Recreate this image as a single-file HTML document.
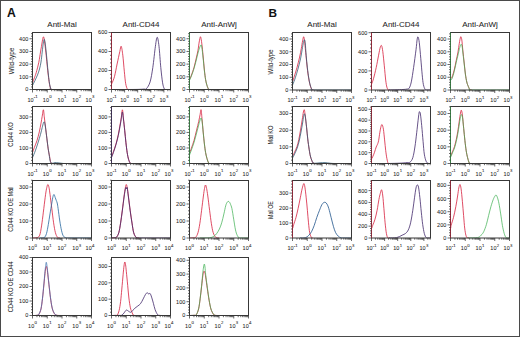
<!DOCTYPE html><html><head><meta charset="utf-8"><style>html,body{margin:0;padding:0;background:#fff;}svg{display:block;}text{font-family:"Liberation Sans", sans-serif;stroke:#1e1e1e;stroke-width:0.05px;}</style></head><body>
<svg width="520" height="337" viewBox="0 0 520 337">
<rect x="0" y="0" width="520" height="337" fill="#fff"/>
<clipPath id="cA00"><rect x="32.50" y="32.50" width="59.00" height="57.60"/></clipPath>
<g clip-path="url(#cA00)" fill="none" stroke-width="0.9" stroke-linejoin="round">
<path d="M32.50,83.00 C32.83,82.08 33.88,79.22 34.50,77.50 C35.12,75.78 35.48,75.23 36.20,72.70 C36.92,70.17 38.08,65.75 38.80,62.30 C39.52,58.85 40.02,54.88 40.50,52.00 C40.98,49.12 41.35,47.08 41.70,45.00 C42.05,42.92 42.32,40.87 42.60,39.50 C42.88,38.13 43.13,36.88 43.40,36.80 C43.67,36.72 43.97,37.92 44.20,39.00 C44.43,40.08 44.47,40.57 44.80,43.30 C45.13,46.03 45.77,51.37 46.20,55.40 C46.63,59.43 47.00,63.77 47.40,67.50 C47.80,71.23 48.23,74.93 48.60,77.80 C48.97,80.67 49.23,82.87 49.60,84.70 C49.97,86.53 50.32,88.00 50.80,88.80 C51.28,89.60 45.80,89.38 52.50,89.50 C59.20,89.62 84.58,89.50 91.00,89.50" stroke="#d8223f" stroke-opacity="0.9"/>
<path d="M32.50,85.50 C32.92,84.67 34.17,82.25 35.00,80.50 C35.83,78.75 36.75,76.92 37.50,75.00 C38.25,73.08 38.92,71.17 39.50,69.00 C40.08,66.83 40.55,64.83 41.00,62.00 C41.45,59.17 41.82,55.17 42.20,52.00 C42.58,48.83 42.98,45.08 43.30,43.00 C43.62,40.92 43.82,39.67 44.10,39.50 C44.38,39.33 44.63,39.75 45.00,42.00 C45.37,44.25 45.88,49.00 46.30,53.00 C46.72,57.00 47.10,61.92 47.50,66.00 C47.90,70.08 48.33,74.42 48.70,77.50 C49.07,80.58 49.33,82.62 49.70,84.50 C50.07,86.38 50.43,87.97 50.90,88.80 C51.37,89.63 45.82,89.38 52.50,89.50 C59.18,89.62 84.58,89.50 91.00,89.50" stroke="#2c5670" stroke-opacity="0.85"/>
</g>
<rect x="32.50" y="32.50" width="59.00" height="57.00" fill="none" stroke="#383838" stroke-width="1"/>
<text x="28.30" y="91.45" font-size="5.5" text-anchor="end" fill="#1e1e1e">0</text>
<text x="28.30" y="78.76" font-size="5.5" text-anchor="end" fill="#1e1e1e">100</text>
<text x="28.30" y="66.08" font-size="5.5" text-anchor="end" fill="#1e1e1e">200</text>
<text x="28.30" y="53.39" font-size="5.5" text-anchor="end" fill="#1e1e1e">300</text>
<text x="28.30" y="40.70" font-size="5.5" text-anchor="end" fill="#1e1e1e">400</text>
<path d="M29.50 89.50H32.50M31.00 86.96H32.50M31.00 84.42H32.50M31.00 81.89H32.50M31.00 79.35H32.50M29.50 76.81H32.50M31.00 74.28H32.50M31.00 71.74H32.50M31.00 69.20H32.50M31.00 66.66H32.50M29.50 64.12H32.50M31.00 61.59H32.50M31.00 59.05H32.50M31.00 56.51H32.50M31.00 53.98H32.50M29.50 51.44H32.50M31.00 48.90H32.50M31.00 46.36H32.50M31.00 43.83H32.50M31.00 41.29H32.50M29.50 38.75H32.50M31.00 36.21H32.50M31.00 33.68H32.50M32.50 89.50V92.50M36.94 89.50V91.20M39.54 89.50V91.20M41.38 89.50V91.20M42.81 89.50V91.20M43.98 89.50V91.20M44.97 89.50V91.20M45.82 89.50V91.20M46.58 89.50V91.20M47.25 89.50V92.50M51.69 89.50V91.20M54.29 89.50V91.20M56.13 89.50V91.20M57.56 89.50V91.20M58.73 89.50V91.20M59.72 89.50V91.20M60.57 89.50V91.20M61.33 89.50V91.20M62.00 89.50V92.50M66.44 89.50V91.20M69.04 89.50V91.20M70.88 89.50V91.20M72.31 89.50V91.20M73.48 89.50V91.20M74.47 89.50V91.20M75.32 89.50V91.20M76.08 89.50V91.20M76.75 89.50V92.50M81.19 89.50V91.20M83.79 89.50V91.20M85.63 89.50V91.20M87.06 89.50V91.20M88.23 89.50V91.20M89.22 89.50V91.20M90.07 89.50V91.20M90.83 89.50V91.20M91.50 89.50V92.50" stroke="#383838" stroke-width="0.75" fill="none"/>
<text x="27.38" y="101.80" font-size="5.5" fill="#1e1e1e">10</text>
<text x="33.80" y="98.40" font-size="4.3" fill="#1e1e1e">-1</text>
<text x="42.85" y="101.80" font-size="5.5" fill="#1e1e1e">10</text>
<text x="49.26" y="98.40" font-size="4.3" fill="#1e1e1e">0</text>
<text x="57.60" y="101.80" font-size="5.5" fill="#1e1e1e">10</text>
<text x="64.01" y="98.40" font-size="4.3" fill="#1e1e1e">1</text>
<text x="72.35" y="101.80" font-size="5.5" fill="#1e1e1e">10</text>
<text x="78.76" y="98.40" font-size="4.3" fill="#1e1e1e">2</text>
<text x="85.60" y="101.80" font-size="5.5" fill="#1e1e1e">10</text>
<text x="92.01" y="98.40" font-size="4.3" fill="#1e1e1e">3</text>
<clipPath id="cA01"><rect x="111.50" y="32.50" width="59.00" height="57.60"/></clipPath>
<g clip-path="url(#cA01)" fill="none" stroke-width="0.9" stroke-linejoin="round">
<path d="M111.80,83.70 C112.25,82.50 113.62,79.78 114.50,76.50 C115.38,73.22 116.22,68.15 117.10,64.00 C117.98,59.85 119.12,54.55 119.80,51.60 C120.48,48.65 120.70,45.70 121.20,46.30 C121.70,46.90 122.28,51.05 122.80,55.20 C123.32,59.35 123.82,66.45 124.30,71.20 C124.78,75.95 125.17,80.68 125.70,83.70 C126.23,86.72 126.95,88.33 127.50,89.30 C128.05,90.27 128.75,89.47 129.00,89.50" stroke="#d8223f" stroke-opacity="0.9"/>
<path d="M128.00,89.50 C129.67,89.48 135.33,89.47 138.00,89.40 C140.67,89.33 142.58,89.23 144.00,89.10 C145.42,88.97 145.48,89.80 146.50,88.60 C147.52,87.40 149.05,85.40 150.10,81.90 C151.15,78.40 151.92,73.53 152.80,67.60 C153.68,61.67 154.67,51.35 155.40,46.30 C156.13,41.25 156.60,37.30 157.20,37.30 C157.80,37.30 158.40,41.25 159.00,46.30 C159.60,51.35 160.20,61.52 160.80,67.60 C161.40,73.68 162.02,79.27 162.60,82.80 C163.18,86.33 163.73,87.68 164.30,88.80 C164.87,89.92 165.05,89.38 166.00,89.50 C166.95,89.62 169.33,89.50 170.00,89.50" stroke="#432a6c" stroke-opacity="0.9"/>
</g>
<rect x="111.50" y="32.50" width="59.00" height="57.00" fill="none" stroke="#383838" stroke-width="1"/>
<line x1="111.50" y1="32.50" x2="111.50" y2="89.50" stroke="#d8223f" stroke-width="0.8" opacity="0.75"/>
<text x="107.30" y="91.45" font-size="5.5" text-anchor="end" fill="#1e1e1e">0</text>
<text x="107.30" y="72.45" font-size="5.5" text-anchor="end" fill="#1e1e1e">200</text>
<text x="107.30" y="53.45" font-size="5.5" text-anchor="end" fill="#1e1e1e">400</text>
<text x="107.30" y="34.45" font-size="5.5" text-anchor="end" fill="#1e1e1e">600</text>
<path d="M108.50 89.50H111.50M110.00 85.70H111.50M110.00 81.90H111.50M110.00 78.10H111.50M110.00 74.30H111.50M108.50 70.50H111.50M110.00 66.70H111.50M110.00 62.90H111.50M110.00 59.10H111.50M110.00 55.30H111.50M108.50 51.50H111.50M110.00 47.70H111.50M110.00 43.90H111.50M110.00 40.10H111.50M110.00 36.30H111.50M108.50 32.50H111.50M111.50 89.50V92.50M115.44 89.50V91.20M117.75 89.50V91.20M119.39 89.50V91.20M120.66 89.50V91.20M121.69 89.50V91.20M122.57 89.50V91.20M123.33 89.50V91.20M124.00 89.50V91.20M124.60 89.50V92.50M128.54 89.50V91.20M130.85 89.50V91.20M132.49 89.50V91.20M133.76 89.50V91.20M134.79 89.50V91.20M135.67 89.50V91.20M136.43 89.50V91.20M137.10 89.50V91.20M137.70 89.50V92.50M141.64 89.50V91.20M143.95 89.50V91.20M145.59 89.50V91.20M146.86 89.50V91.20M147.89 89.50V91.20M148.77 89.50V91.20M149.53 89.50V91.20M150.20 89.50V91.20M150.80 89.50V92.50M154.74 89.50V91.20M157.05 89.50V91.20M158.69 89.50V91.20M159.96 89.50V91.20M160.99 89.50V91.20M161.87 89.50V91.20M162.63 89.50V91.20M163.30 89.50V91.20M163.90 89.50V92.50M167.84 89.50V91.20M170.15 89.50V91.20" stroke="#383838" stroke-width="0.75" fill="none"/>
<text x="106.38" y="101.80" font-size="5.5" fill="#1e1e1e">10</text>
<text x="112.80" y="98.40" font-size="4.3" fill="#1e1e1e">-1</text>
<text x="120.20" y="101.80" font-size="5.5" fill="#1e1e1e">10</text>
<text x="126.61" y="98.40" font-size="4.3" fill="#1e1e1e">0</text>
<text x="133.30" y="101.80" font-size="5.5" fill="#1e1e1e">10</text>
<text x="139.71" y="98.40" font-size="4.3" fill="#1e1e1e">1</text>
<text x="146.40" y="101.80" font-size="5.5" fill="#1e1e1e">10</text>
<text x="152.81" y="98.40" font-size="4.3" fill="#1e1e1e">2</text>
<text x="159.50" y="101.80" font-size="5.5" fill="#1e1e1e">10</text>
<text x="165.91" y="98.40" font-size="4.3" fill="#1e1e1e">3</text>
<clipPath id="cA02"><rect x="189.50" y="32.50" width="59.00" height="57.60"/></clipPath>
<g clip-path="url(#cA02)" fill="none" stroke-width="0.9" stroke-linejoin="round">
<path d="M189.50,79.60 C189.82,78.87 190.65,77.22 191.40,75.20 C192.15,73.18 193.18,70.37 194.00,67.50 C194.82,64.63 195.63,60.88 196.30,58.00 C196.97,55.12 197.52,52.87 198.00,50.20 C198.48,47.53 198.80,44.23 199.20,42.00 C199.60,39.77 200.05,37.13 200.40,36.80 C200.75,36.47 201.00,38.30 201.30,40.00 C201.60,41.70 201.88,44.17 202.20,47.00 C202.52,49.83 202.83,53.17 203.20,57.00 C203.57,60.83 204.00,66.23 204.40,70.00 C204.80,73.77 205.17,77.02 205.60,79.60 C206.03,82.18 206.48,83.90 207.00,85.50 C207.52,87.10 208.03,88.53 208.70,89.20 C209.37,89.87 210.62,89.45 211.00,89.50" stroke="#d8223f" stroke-opacity="0.9"/>
<path d="M189.50,80.50 C189.82,79.75 190.65,78.00 191.40,76.00 C192.15,74.00 193.18,71.17 194.00,68.50 C194.82,65.83 195.63,62.58 196.30,60.00 C196.97,57.42 197.47,55.00 198.00,53.00 C198.53,51.00 199.02,49.33 199.50,48.00 C199.98,46.67 200.52,45.17 200.90,45.00 C201.28,44.83 201.42,44.68 201.80,47.00 C202.18,49.32 202.77,54.92 203.20,58.90 C203.63,62.88 204.00,67.45 204.40,70.90 C204.80,74.35 205.17,77.17 205.60,79.60 C206.03,82.03 206.48,83.90 207.00,85.50 C207.52,87.10 208.03,88.53 208.70,89.20 C209.37,89.87 204.45,89.45 211.00,89.50 C217.55,89.55 241.83,89.50 248.00,89.50" stroke="#3cb050" stroke-opacity="0.8"/>
</g>
<rect x="189.50" y="32.50" width="59.00" height="57.00" fill="none" stroke="#383838" stroke-width="1"/>
<line x1="189.50" y1="32.50" x2="189.50" y2="89.50" stroke="#3cb050" stroke-width="0.8" opacity="0.75"/>
<text x="185.30" y="91.45" font-size="5.5" text-anchor="end" fill="#1e1e1e">0</text>
<text x="185.30" y="78.76" font-size="5.5" text-anchor="end" fill="#1e1e1e">100</text>
<text x="185.30" y="66.08" font-size="5.5" text-anchor="end" fill="#1e1e1e">200</text>
<text x="185.30" y="53.39" font-size="5.5" text-anchor="end" fill="#1e1e1e">300</text>
<text x="185.30" y="40.70" font-size="5.5" text-anchor="end" fill="#1e1e1e">400</text>
<path d="M186.50 89.50H189.50M188.00 86.96H189.50M188.00 84.42H189.50M188.00 81.89H189.50M188.00 79.35H189.50M186.50 76.81H189.50M188.00 74.28H189.50M188.00 71.74H189.50M188.00 69.20H189.50M188.00 66.66H189.50M186.50 64.12H189.50M188.00 61.59H189.50M188.00 59.05H189.50M188.00 56.51H189.50M188.00 53.98H189.50M186.50 51.44H189.50M188.00 48.90H189.50M188.00 46.36H189.50M188.00 43.83H189.50M188.00 41.29H189.50M186.50 38.75H189.50M188.00 36.21H189.50M188.00 33.68H189.50M189.50 89.50V92.50M193.94 89.50V91.20M196.54 89.50V91.20M198.38 89.50V91.20M199.81 89.50V91.20M200.98 89.50V91.20M201.97 89.50V91.20M202.82 89.50V91.20M203.58 89.50V91.20M204.25 89.50V92.50M208.69 89.50V91.20M211.29 89.50V91.20M213.13 89.50V91.20M214.56 89.50V91.20M215.73 89.50V91.20M216.72 89.50V91.20M217.57 89.50V91.20M218.33 89.50V91.20M219.00 89.50V92.50M223.44 89.50V91.20M226.04 89.50V91.20M227.88 89.50V91.20M229.31 89.50V91.20M230.48 89.50V91.20M231.47 89.50V91.20M232.32 89.50V91.20M233.08 89.50V91.20M233.75 89.50V92.50M238.19 89.50V91.20M240.79 89.50V91.20M242.63 89.50V91.20M244.06 89.50V91.20M245.23 89.50V91.20M246.22 89.50V91.20M247.07 89.50V91.20M247.83 89.50V91.20M248.50 89.50V92.50" stroke="#383838" stroke-width="0.75" fill="none"/>
<text x="184.38" y="101.80" font-size="5.5" fill="#1e1e1e">10</text>
<text x="190.80" y="98.40" font-size="4.3" fill="#1e1e1e">-1</text>
<text x="199.85" y="101.80" font-size="5.5" fill="#1e1e1e">10</text>
<text x="206.26" y="98.40" font-size="4.3" fill="#1e1e1e">0</text>
<text x="214.60" y="101.80" font-size="5.5" fill="#1e1e1e">10</text>
<text x="221.01" y="98.40" font-size="4.3" fill="#1e1e1e">1</text>
<text x="229.35" y="101.80" font-size="5.5" fill="#1e1e1e">10</text>
<text x="235.76" y="98.40" font-size="4.3" fill="#1e1e1e">2</text>
<text x="242.60" y="101.80" font-size="5.5" fill="#1e1e1e">10</text>
<text x="249.01" y="98.40" font-size="4.3" fill="#1e1e1e">3</text>
<clipPath id="cA10"><rect x="32.50" y="106.50" width="59.00" height="57.60"/></clipPath>
<g clip-path="url(#cA10)" fill="none" stroke-width="0.9" stroke-linejoin="round">
<path d="M32.50,152.60 C32.82,151.73 33.65,149.42 34.40,147.40 C35.15,145.38 36.18,143.08 37.00,140.50 C37.82,137.92 38.63,134.78 39.30,131.90 C39.97,129.02 40.52,125.80 41.00,123.20 C41.48,120.60 41.80,118.53 42.20,116.30 C42.60,114.07 43.03,109.52 43.40,109.80 C43.77,110.08 44.02,114.90 44.40,118.00 C44.78,121.10 45.28,124.93 45.70,128.40 C46.12,131.87 46.48,135.35 46.90,138.80 C47.32,142.25 47.75,146.15 48.20,149.10 C48.65,152.05 49.17,154.27 49.60,156.50 C50.03,158.73 50.32,161.33 50.80,162.50 C51.28,163.67 52.22,163.33 52.50,163.50" stroke="#d8223f" stroke-opacity="0.9"/>
<path d="M32.50,157.70 C32.97,156.55 34.40,153.23 35.30,150.80 C36.20,148.37 37.03,145.83 37.90,143.10 C38.77,140.37 39.78,136.98 40.50,134.40 C41.22,131.82 41.72,129.50 42.20,127.60 C42.68,125.70 43.05,123.95 43.40,123.00 C43.75,122.05 44.02,121.57 44.30,121.90 C44.58,122.23 44.73,122.77 45.10,125.00 C45.47,127.23 46.03,131.72 46.50,135.30 C46.97,138.88 47.47,143.33 47.90,146.50 C48.33,149.67 48.70,151.80 49.10,154.30 C49.50,156.80 49.82,160.00 50.30,161.50 C50.78,163.00 51.22,163.12 52.00,163.30 C52.78,163.48 54.00,162.68 55.00,162.60 C56.00,162.52 56.83,162.68 58.00,162.80 C59.17,162.92 60.67,163.18 62.00,163.30 C63.33,163.42 61.17,163.47 66.00,163.50 C70.83,163.53 86.83,163.50 91.00,163.50" stroke="#2c5670" stroke-opacity="0.85"/>
</g>
<rect x="32.50" y="106.50" width="59.00" height="57.00" fill="none" stroke="#383838" stroke-width="1"/>
<text x="28.30" y="165.45" font-size="5.5" text-anchor="end" fill="#1e1e1e">0</text>
<text x="28.30" y="149.92" font-size="5.5" text-anchor="end" fill="#1e1e1e">100</text>
<text x="28.30" y="134.38" font-size="5.5" text-anchor="end" fill="#1e1e1e">200</text>
<text x="28.30" y="118.85" font-size="5.5" text-anchor="end" fill="#1e1e1e">300</text>
<path d="M29.50 163.50H32.50M31.00 160.39H32.50M31.00 157.29H32.50M31.00 154.18H32.50M31.00 151.07H32.50M29.50 147.97H32.50M31.00 144.86H32.50M31.00 141.75H32.50M31.00 138.65H32.50M31.00 135.54H32.50M29.50 132.43H32.50M31.00 129.33H32.50M31.00 126.22H32.50M31.00 123.11H32.50M31.00 120.01H32.50M29.50 116.90H32.50M31.00 113.79H32.50M31.00 110.69H32.50M31.00 107.58H32.50M32.50 163.50V166.50M36.94 163.50V165.20M39.54 163.50V165.20M41.38 163.50V165.20M42.81 163.50V165.20M43.98 163.50V165.20M44.97 163.50V165.20M45.82 163.50V165.20M46.58 163.50V165.20M47.25 163.50V166.50M51.69 163.50V165.20M54.29 163.50V165.20M56.13 163.50V165.20M57.56 163.50V165.20M58.73 163.50V165.20M59.72 163.50V165.20M60.57 163.50V165.20M61.33 163.50V165.20M62.00 163.50V166.50M66.44 163.50V165.20M69.04 163.50V165.20M70.88 163.50V165.20M72.31 163.50V165.20M73.48 163.50V165.20M74.47 163.50V165.20M75.32 163.50V165.20M76.08 163.50V165.20M76.75 163.50V166.50M81.19 163.50V165.20M83.79 163.50V165.20M85.63 163.50V165.20M87.06 163.50V165.20M88.23 163.50V165.20M89.22 163.50V165.20M90.07 163.50V165.20M90.83 163.50V165.20M91.50 163.50V166.50" stroke="#383838" stroke-width="0.75" fill="none"/>
<text x="27.38" y="175.80" font-size="5.5" fill="#1e1e1e">10</text>
<text x="33.80" y="172.40" font-size="4.3" fill="#1e1e1e">-1</text>
<text x="42.85" y="175.80" font-size="5.5" fill="#1e1e1e">10</text>
<text x="49.26" y="172.40" font-size="4.3" fill="#1e1e1e">0</text>
<text x="57.60" y="175.80" font-size="5.5" fill="#1e1e1e">10</text>
<text x="64.01" y="172.40" font-size="4.3" fill="#1e1e1e">1</text>
<text x="72.35" y="175.80" font-size="5.5" fill="#1e1e1e">10</text>
<text x="78.76" y="172.40" font-size="4.3" fill="#1e1e1e">2</text>
<text x="85.60" y="175.80" font-size="5.5" fill="#1e1e1e">10</text>
<text x="92.01" y="172.40" font-size="4.3" fill="#1e1e1e">3</text>
<clipPath id="cA11"><rect x="111.50" y="106.50" width="59.00" height="57.60"/></clipPath>
<g clip-path="url(#cA11)" fill="none" stroke-width="0.9" stroke-linejoin="round">
<path d="M111.50,156.90 C111.82,156.03 112.65,153.87 113.40,151.70 C114.15,149.53 115.18,146.78 116.00,143.90 C116.82,141.02 117.63,137.55 118.30,134.40 C118.97,131.25 119.52,127.73 120.00,125.00 C120.48,122.27 120.80,120.53 121.20,118.00 C121.60,115.47 122.03,109.80 122.40,109.80 C122.77,109.80 123.02,114.62 123.40,118.00 C123.78,121.38 124.28,126.07 124.70,130.10 C125.12,134.13 125.48,138.45 125.90,142.20 C126.32,145.95 126.75,149.73 127.20,152.60 C127.65,155.47 128.08,157.63 128.60,159.40 C129.12,161.17 129.73,162.52 130.30,163.20 C130.87,163.88 131.72,163.45 132.00,163.50" stroke="#d8223f" stroke-opacity="0.9"/>
<path d="M111.50,157.50 C111.82,156.67 112.65,154.67 113.40,152.50 C114.15,150.33 115.18,147.33 116.00,144.50 C116.82,141.67 117.63,138.50 118.30,135.50 C118.97,132.50 119.52,129.17 120.00,126.50 C120.48,123.83 120.80,121.92 121.20,119.50 C121.60,117.08 122.03,112.08 122.40,112.00 C122.77,111.92 123.02,115.92 123.40,119.00 C123.78,122.08 124.28,126.58 124.70,130.50 C125.12,134.42 125.48,138.78 125.90,142.50 C126.32,146.22 126.75,149.97 127.20,152.80 C127.65,155.63 128.08,157.77 128.60,159.50 C129.12,161.23 129.73,162.53 130.30,163.20 C130.87,163.87 125.38,163.45 132.00,163.50 C138.62,163.55 163.67,163.50 170.00,163.50" stroke="#432a6c" stroke-opacity="0.9"/>
</g>
<rect x="111.50" y="106.50" width="59.00" height="57.00" fill="none" stroke="#383838" stroke-width="1"/>
<line x1="111.50" y1="106.50" x2="111.50" y2="163.50" stroke="#432a6c" stroke-width="0.8" opacity="0.75"/>
<text x="107.30" y="165.45" font-size="5.5" text-anchor="end" fill="#1e1e1e">0</text>
<text x="107.30" y="149.92" font-size="5.5" text-anchor="end" fill="#1e1e1e">100</text>
<text x="107.30" y="134.38" font-size="5.5" text-anchor="end" fill="#1e1e1e">200</text>
<text x="107.30" y="118.85" font-size="5.5" text-anchor="end" fill="#1e1e1e">300</text>
<path d="M108.50 163.50H111.50M110.00 160.39H111.50M110.00 157.29H111.50M110.00 154.18H111.50M110.00 151.07H111.50M108.50 147.97H111.50M110.00 144.86H111.50M110.00 141.75H111.50M110.00 138.65H111.50M110.00 135.54H111.50M108.50 132.43H111.50M110.00 129.33H111.50M110.00 126.22H111.50M110.00 123.11H111.50M110.00 120.01H111.50M108.50 116.90H111.50M110.00 113.79H111.50M110.00 110.69H111.50M110.00 107.58H111.50M111.50 163.50V166.50M115.94 163.50V165.20M118.54 163.50V165.20M120.38 163.50V165.20M121.81 163.50V165.20M122.98 163.50V165.20M123.97 163.50V165.20M124.82 163.50V165.20M125.58 163.50V165.20M126.25 163.50V166.50M130.69 163.50V165.20M133.29 163.50V165.20M135.13 163.50V165.20M136.56 163.50V165.20M137.73 163.50V165.20M138.72 163.50V165.20M139.57 163.50V165.20M140.33 163.50V165.20M141.00 163.50V166.50M145.44 163.50V165.20M148.04 163.50V165.20M149.88 163.50V165.20M151.31 163.50V165.20M152.48 163.50V165.20M153.47 163.50V165.20M154.32 163.50V165.20M155.08 163.50V165.20M155.75 163.50V166.50M160.19 163.50V165.20M162.79 163.50V165.20M164.63 163.50V165.20M166.06 163.50V165.20M167.23 163.50V165.20M168.22 163.50V165.20M169.07 163.50V165.20M169.83 163.50V165.20M170.50 163.50V166.50" stroke="#383838" stroke-width="0.75" fill="none"/>
<text x="106.38" y="175.80" font-size="5.5" fill="#1e1e1e">10</text>
<text x="112.80" y="172.40" font-size="4.3" fill="#1e1e1e">-1</text>
<text x="121.85" y="175.80" font-size="5.5" fill="#1e1e1e">10</text>
<text x="128.26" y="172.40" font-size="4.3" fill="#1e1e1e">0</text>
<text x="136.60" y="175.80" font-size="5.5" fill="#1e1e1e">10</text>
<text x="143.01" y="172.40" font-size="4.3" fill="#1e1e1e">1</text>
<text x="151.35" y="175.80" font-size="5.5" fill="#1e1e1e">10</text>
<text x="157.76" y="172.40" font-size="4.3" fill="#1e1e1e">2</text>
<text x="164.60" y="175.80" font-size="5.5" fill="#1e1e1e">10</text>
<text x="171.01" y="172.40" font-size="4.3" fill="#1e1e1e">3</text>
<clipPath id="cA12"><rect x="189.50" y="106.50" width="59.00" height="57.60"/></clipPath>
<g clip-path="url(#cA12)" fill="none" stroke-width="0.9" stroke-linejoin="round">
<path d="M189.50,153.40 C189.82,152.53 190.65,150.35 191.40,148.20 C192.15,146.05 193.13,143.52 194.00,140.50 C194.87,137.48 195.82,133.27 196.60,130.10 C197.38,126.93 198.12,124.08 198.70,121.50 C199.28,118.92 199.70,116.55 200.10,114.60 C200.50,112.65 200.77,108.93 201.10,109.80 C201.43,110.67 201.75,116.12 202.10,119.80 C202.45,123.48 202.82,127.88 203.20,131.90 C203.58,135.92 204.00,140.45 204.40,143.90 C204.80,147.35 205.17,150.15 205.60,152.60 C206.03,155.05 206.48,156.87 207.00,158.60 C207.52,160.33 208.12,162.18 208.70,163.00 C209.28,163.82 210.20,163.42 210.50,163.50" stroke="#d8223f" stroke-opacity="0.9"/>
<path d="M189.50,155.00 C189.82,154.17 190.65,152.08 191.40,150.00 C192.15,147.92 193.13,145.33 194.00,142.50 C194.87,139.67 195.82,135.92 196.60,133.00 C197.38,130.08 198.12,127.17 198.70,125.00 C199.28,122.83 199.70,121.17 200.10,120.00 C200.50,118.83 200.77,117.75 201.10,118.00 C201.43,118.25 201.75,119.08 202.10,121.50 C202.45,123.92 202.82,128.75 203.20,132.50 C203.58,136.25 204.00,140.65 204.40,144.00 C204.80,147.35 205.17,150.17 205.60,152.60 C206.03,155.03 206.48,156.87 207.00,158.60 C207.52,160.33 208.12,162.18 208.70,163.00 C209.28,163.82 203.95,163.42 210.50,163.50 C217.05,163.58 241.75,163.50 248.00,163.50" stroke="#3cb050" stroke-opacity="0.8"/>
</g>
<rect x="189.50" y="106.50" width="59.00" height="57.00" fill="none" stroke="#383838" stroke-width="1"/>
<line x1="189.50" y1="106.50" x2="189.50" y2="163.50" stroke="#3cb050" stroke-width="0.8" opacity="0.75"/>
<text x="185.30" y="165.45" font-size="5.5" text-anchor="end" fill="#1e1e1e">0</text>
<text x="185.30" y="149.92" font-size="5.5" text-anchor="end" fill="#1e1e1e">100</text>
<text x="185.30" y="134.38" font-size="5.5" text-anchor="end" fill="#1e1e1e">200</text>
<text x="185.30" y="118.85" font-size="5.5" text-anchor="end" fill="#1e1e1e">300</text>
<path d="M186.50 163.50H189.50M188.00 160.39H189.50M188.00 157.29H189.50M188.00 154.18H189.50M188.00 151.07H189.50M186.50 147.97H189.50M188.00 144.86H189.50M188.00 141.75H189.50M188.00 138.65H189.50M188.00 135.54H189.50M186.50 132.43H189.50M188.00 129.33H189.50M188.00 126.22H189.50M188.00 123.11H189.50M188.00 120.01H189.50M186.50 116.90H189.50M188.00 113.79H189.50M188.00 110.69H189.50M188.00 107.58H189.50M189.50 163.50V166.50M193.94 163.50V165.20M196.54 163.50V165.20M198.38 163.50V165.20M199.81 163.50V165.20M200.98 163.50V165.20M201.97 163.50V165.20M202.82 163.50V165.20M203.58 163.50V165.20M204.25 163.50V166.50M208.69 163.50V165.20M211.29 163.50V165.20M213.13 163.50V165.20M214.56 163.50V165.20M215.73 163.50V165.20M216.72 163.50V165.20M217.57 163.50V165.20M218.33 163.50V165.20M219.00 163.50V166.50M223.44 163.50V165.20M226.04 163.50V165.20M227.88 163.50V165.20M229.31 163.50V165.20M230.48 163.50V165.20M231.47 163.50V165.20M232.32 163.50V165.20M233.08 163.50V165.20M233.75 163.50V166.50M238.19 163.50V165.20M240.79 163.50V165.20M242.63 163.50V165.20M244.06 163.50V165.20M245.23 163.50V165.20M246.22 163.50V165.20M247.07 163.50V165.20M247.83 163.50V165.20M248.50 163.50V166.50" stroke="#383838" stroke-width="0.75" fill="none"/>
<text x="184.38" y="175.80" font-size="5.5" fill="#1e1e1e">10</text>
<text x="190.80" y="172.40" font-size="4.3" fill="#1e1e1e">-1</text>
<text x="199.85" y="175.80" font-size="5.5" fill="#1e1e1e">10</text>
<text x="206.26" y="172.40" font-size="4.3" fill="#1e1e1e">0</text>
<text x="214.60" y="175.80" font-size="5.5" fill="#1e1e1e">10</text>
<text x="221.01" y="172.40" font-size="4.3" fill="#1e1e1e">1</text>
<text x="229.35" y="175.80" font-size="5.5" fill="#1e1e1e">10</text>
<text x="235.76" y="172.40" font-size="4.3" fill="#1e1e1e">2</text>
<text x="242.60" y="175.80" font-size="5.5" fill="#1e1e1e">10</text>
<text x="249.01" y="172.40" font-size="4.3" fill="#1e1e1e">3</text>
<clipPath id="cA20"><rect x="32.50" y="180.50" width="59.00" height="58.10"/></clipPath>
<g clip-path="url(#cA20)" fill="none" stroke-width="0.9" stroke-linejoin="round">
<path d="M33.00,238.00 C33.50,237.97 35.08,237.97 36.00,237.80 C36.92,237.63 37.80,237.72 38.50,237.00 C39.20,236.28 39.62,235.87 40.20,233.50 C40.78,231.13 41.40,226.97 42.00,222.80 C42.60,218.63 43.20,213.25 43.80,208.50 C44.40,203.75 45.10,197.80 45.60,194.30 C46.10,190.80 46.42,189.13 46.80,187.50 C47.18,185.87 47.53,184.50 47.90,184.50 C48.27,184.50 48.65,185.87 49.00,187.50 C49.35,189.13 49.53,190.80 50.00,194.30 C50.47,197.80 51.20,203.75 51.80,208.50 C52.40,213.25 53.00,218.78 53.60,222.80 C54.20,226.82 54.75,230.18 55.40,232.60 C56.05,235.02 56.73,236.40 57.50,237.30 C58.27,238.20 59.58,237.88 60.00,238.00" stroke="#d8223f" stroke-opacity="0.9"/>
<path d="M40.00,238.00 C40.72,237.92 43.22,238.25 44.30,237.50 C45.38,236.75 45.83,235.65 46.50,233.50 C47.17,231.35 47.72,227.87 48.30,224.60 C48.88,221.33 49.42,217.47 50.00,213.90 C50.58,210.33 51.30,206.10 51.80,203.20 C52.30,200.30 52.62,197.93 53.00,196.50 C53.38,195.07 53.73,194.43 54.10,194.60 C54.47,194.77 54.83,196.52 55.20,197.50 C55.57,198.48 55.97,199.58 56.30,200.50 C56.63,201.42 56.90,201.67 57.20,203.00 C57.50,204.33 57.67,205.50 58.10,208.50 C58.53,211.50 59.22,217.28 59.80,221.00 C60.38,224.72 61.00,228.28 61.60,230.80 C62.20,233.32 62.65,234.93 63.40,236.10 C64.15,237.27 65.00,237.48 66.10,237.80 C67.20,238.12 65.85,237.97 70.00,238.00 C74.15,238.03 87.50,238.00 91.00,238.00" stroke="#2868a0" stroke-opacity="0.9"/>
</g>
<rect x="32.50" y="180.50" width="59.00" height="57.50" fill="none" stroke="#383838" stroke-width="1"/>
<text x="28.30" y="239.95" font-size="5.5" text-anchor="end" fill="#1e1e1e">0</text>
<text x="28.30" y="222.95" font-size="5.5" text-anchor="end" fill="#1e1e1e">100</text>
<text x="28.30" y="205.95" font-size="5.5" text-anchor="end" fill="#1e1e1e">200</text>
<text x="28.30" y="188.95" font-size="5.5" text-anchor="end" fill="#1e1e1e">300</text>
<path d="M29.50 238.00H32.50M31.00 234.60H32.50M31.00 231.20H32.50M31.00 227.80H32.50M31.00 224.40H32.50M29.50 221.00H32.50M31.00 217.60H32.50M31.00 214.20H32.50M31.00 210.80H32.50M31.00 207.40H32.50M29.50 204.00H32.50M31.00 200.60H32.50M31.00 197.20H32.50M31.00 193.80H32.50M31.00 190.40H32.50M29.50 187.00H32.50M31.00 183.60H32.50M31.00 180.20H32.50M32.50 238.00V241.00M36.94 238.00V239.70M39.54 238.00V239.70M41.38 238.00V239.70M42.81 238.00V239.70M43.98 238.00V239.70M44.97 238.00V239.70M45.82 238.00V239.70M46.58 238.00V239.70M47.25 238.00V241.00M51.69 238.00V239.70M54.29 238.00V239.70M56.13 238.00V239.70M57.56 238.00V239.70M58.73 238.00V239.70M59.72 238.00V239.70M60.57 238.00V239.70M61.33 238.00V239.70M62.00 238.00V241.00M66.44 238.00V239.70M69.04 238.00V239.70M70.88 238.00V239.70M72.31 238.00V239.70M73.48 238.00V239.70M74.47 238.00V239.70M75.32 238.00V239.70M76.08 238.00V239.70M76.75 238.00V241.00M81.19 238.00V239.70M83.79 238.00V239.70M85.63 238.00V239.70M87.06 238.00V239.70M88.23 238.00V239.70M89.22 238.00V239.70M90.07 238.00V239.70M90.83 238.00V239.70M91.50 238.00V241.00" stroke="#383838" stroke-width="0.75" fill="none"/>
<text x="28.10" y="250.30" font-size="5.5" fill="#1e1e1e">10</text>
<text x="34.51" y="246.90" font-size="4.3" fill="#1e1e1e">0</text>
<text x="42.85" y="250.30" font-size="5.5" fill="#1e1e1e">10</text>
<text x="49.26" y="246.90" font-size="4.3" fill="#1e1e1e">1</text>
<text x="57.60" y="250.30" font-size="5.5" fill="#1e1e1e">10</text>
<text x="64.01" y="246.90" font-size="4.3" fill="#1e1e1e">2</text>
<text x="72.35" y="250.30" font-size="5.5" fill="#1e1e1e">10</text>
<text x="78.76" y="246.90" font-size="4.3" fill="#1e1e1e">3</text>
<text x="85.60" y="250.30" font-size="5.5" fill="#1e1e1e">10</text>
<text x="92.01" y="246.90" font-size="4.3" fill="#1e1e1e">4</text>
<clipPath id="cA21"><rect x="111.50" y="180.50" width="59.00" height="58.10"/></clipPath>
<g clip-path="url(#cA21)" fill="none" stroke-width="0.9" stroke-linejoin="round">
<path d="M112.00,238.00 C112.42,237.97 113.75,237.93 114.50,237.80 C115.25,237.67 115.78,238.07 116.50,237.20 C117.22,236.33 118.12,235.00 118.80,232.60 C119.48,230.20 120.02,226.52 120.60,222.80 C121.18,219.08 121.72,214.77 122.30,210.30 C122.88,205.83 123.60,199.72 124.10,196.00 C124.60,192.28 124.93,189.92 125.30,188.00 C125.67,186.08 125.97,184.50 126.30,184.50 C126.63,184.50 126.95,186.08 127.30,188.00 C127.65,189.92 127.92,192.28 128.40,196.00 C128.88,199.72 129.60,205.83 130.20,210.30 C130.80,214.77 131.42,219.08 132.00,222.80 C132.58,226.52 133.02,230.18 133.70,232.60 C134.38,235.02 135.22,236.40 136.10,237.30 C136.98,238.20 138.52,237.88 139.00,238.00" stroke="#d8223f" stroke-opacity="0.9"/>
<path d="M112.00,238.00 C112.42,237.97 113.75,237.93 114.50,237.80 C115.25,237.67 115.78,238.03 116.50,237.20 C117.22,236.37 118.12,235.13 118.80,232.80 C119.48,230.47 120.02,226.83 120.60,223.20 C121.18,219.57 121.72,215.37 122.30,211.00 C122.88,206.63 123.62,200.50 124.10,197.00 C124.58,193.50 124.90,191.58 125.20,190.00 C125.50,188.42 125.68,187.67 125.90,187.50 C126.12,187.33 126.28,188.95 126.50,189.00 C126.72,189.05 126.88,186.47 127.20,187.80 C127.52,189.13 127.90,193.13 128.40,197.00 C128.90,200.87 129.60,206.63 130.20,211.00 C130.80,215.37 131.42,219.57 132.00,223.20 C132.58,226.83 133.02,230.45 133.70,232.80 C134.38,235.15 135.22,236.43 136.10,237.30 C136.98,238.17 133.35,237.88 139.00,238.00 C144.65,238.12 164.83,238.00 170.00,238.00" stroke="#432a6c" stroke-opacity="0.9"/>
</g>
<rect x="111.50" y="180.50" width="59.00" height="57.50" fill="none" stroke="#383838" stroke-width="1"/>
<text x="107.30" y="239.95" font-size="5.5" text-anchor="end" fill="#1e1e1e">0</text>
<text x="107.30" y="222.95" font-size="5.5" text-anchor="end" fill="#1e1e1e">100</text>
<text x="107.30" y="205.95" font-size="5.5" text-anchor="end" fill="#1e1e1e">200</text>
<text x="107.30" y="188.95" font-size="5.5" text-anchor="end" fill="#1e1e1e">300</text>
<path d="M108.50 238.00H111.50M110.00 234.60H111.50M110.00 231.20H111.50M110.00 227.80H111.50M110.00 224.40H111.50M108.50 221.00H111.50M110.00 217.60H111.50M110.00 214.20H111.50M110.00 210.80H111.50M110.00 207.40H111.50M108.50 204.00H111.50M110.00 200.60H111.50M110.00 197.20H111.50M110.00 193.80H111.50M110.00 190.40H111.50M108.50 187.00H111.50M110.00 183.60H111.50M110.00 180.20H111.50M111.50 238.00V241.00M115.94 238.00V239.70M118.54 238.00V239.70M120.38 238.00V239.70M121.81 238.00V239.70M122.98 238.00V239.70M123.97 238.00V239.70M124.82 238.00V239.70M125.58 238.00V239.70M126.25 238.00V241.00M130.69 238.00V239.70M133.29 238.00V239.70M135.13 238.00V239.70M136.56 238.00V239.70M137.73 238.00V239.70M138.72 238.00V239.70M139.57 238.00V239.70M140.33 238.00V239.70M141.00 238.00V241.00M145.44 238.00V239.70M148.04 238.00V239.70M149.88 238.00V239.70M151.31 238.00V239.70M152.48 238.00V239.70M153.47 238.00V239.70M154.32 238.00V239.70M155.08 238.00V239.70M155.75 238.00V241.00M160.19 238.00V239.70M162.79 238.00V239.70M164.63 238.00V239.70M166.06 238.00V239.70M167.23 238.00V239.70M168.22 238.00V239.70M169.07 238.00V239.70M169.83 238.00V239.70M170.50 238.00V241.00" stroke="#383838" stroke-width="0.75" fill="none"/>
<text x="107.10" y="250.30" font-size="5.5" fill="#1e1e1e">10</text>
<text x="113.51" y="246.90" font-size="4.3" fill="#1e1e1e">0</text>
<text x="121.85" y="250.30" font-size="5.5" fill="#1e1e1e">10</text>
<text x="128.26" y="246.90" font-size="4.3" fill="#1e1e1e">1</text>
<text x="136.60" y="250.30" font-size="5.5" fill="#1e1e1e">10</text>
<text x="143.01" y="246.90" font-size="4.3" fill="#1e1e1e">2</text>
<text x="151.35" y="250.30" font-size="5.5" fill="#1e1e1e">10</text>
<text x="157.76" y="246.90" font-size="4.3" fill="#1e1e1e">3</text>
<text x="164.60" y="250.30" font-size="5.5" fill="#1e1e1e">10</text>
<text x="171.01" y="246.90" font-size="4.3" fill="#1e1e1e">4</text>
<clipPath id="cA22"><rect x="189.50" y="180.50" width="59.00" height="58.10"/></clipPath>
<g clip-path="url(#cA22)" fill="none" stroke-width="0.9" stroke-linejoin="round">
<path d="M190.00,238.00 C190.50,237.97 192.05,237.92 193.00,237.80 C193.95,237.68 194.87,238.17 195.70,237.30 C196.53,236.43 197.32,234.87 198.00,232.60 C198.68,230.33 199.20,227.42 199.80,223.70 C200.40,219.98 201.00,214.92 201.60,210.30 C202.20,205.68 202.92,199.63 203.40,196.00 C203.88,192.37 204.15,190.33 204.50,188.50 C204.85,186.67 205.15,185.00 205.50,185.00 C205.85,185.00 206.22,186.67 206.60,188.50 C206.98,190.33 207.30,192.37 207.80,196.00 C208.30,199.63 209.00,205.68 209.60,210.30 C210.20,214.92 210.80,219.98 211.40,223.70 C212.00,227.42 212.47,230.33 213.20,232.60 C213.93,234.87 214.83,236.40 215.80,237.30 C216.77,238.20 218.47,237.88 219.00,238.00" stroke="#d8223f" stroke-opacity="0.9"/>
<path d="M200.00,238.00 C201.60,237.97 207.25,238.12 209.60,237.80 C211.95,237.48 212.92,236.82 214.10,236.10 C215.28,235.38 215.82,234.68 216.70,233.50 C217.58,232.32 218.57,230.78 219.40,229.00 C220.23,227.22 220.95,225.32 221.70,222.80 C222.45,220.28 223.23,216.73 223.90,213.90 C224.57,211.07 225.18,207.70 225.70,205.80 C226.22,203.90 226.57,203.23 227.00,202.50 C227.43,201.77 227.87,201.43 228.30,201.40 C228.73,201.37 229.22,201.78 229.60,202.30 C229.98,202.82 230.22,203.47 230.60,204.50 C230.98,205.53 231.38,206.05 231.90,208.50 C232.42,210.95 233.10,215.63 233.70,219.20 C234.30,222.77 234.92,227.22 235.50,229.90 C236.08,232.58 236.62,233.98 237.20,235.30 C237.78,236.62 238.20,237.35 239.00,237.80 C239.80,238.25 240.50,237.97 242.00,238.00 C243.50,238.03 247.00,238.00 248.00,238.00" stroke="#3cb050" stroke-opacity="0.8"/>
</g>
<rect x="189.50" y="180.50" width="59.00" height="57.50" fill="none" stroke="#383838" stroke-width="1"/>
<text x="185.30" y="239.95" font-size="5.5" text-anchor="end" fill="#1e1e1e">0</text>
<text x="185.30" y="222.95" font-size="5.5" text-anchor="end" fill="#1e1e1e">100</text>
<text x="185.30" y="205.95" font-size="5.5" text-anchor="end" fill="#1e1e1e">200</text>
<text x="185.30" y="188.95" font-size="5.5" text-anchor="end" fill="#1e1e1e">300</text>
<path d="M186.50 238.00H189.50M188.00 234.60H189.50M188.00 231.20H189.50M188.00 227.80H189.50M188.00 224.40H189.50M186.50 221.00H189.50M188.00 217.60H189.50M188.00 214.20H189.50M188.00 210.80H189.50M188.00 207.40H189.50M186.50 204.00H189.50M188.00 200.60H189.50M188.00 197.20H189.50M188.00 193.80H189.50M188.00 190.40H189.50M186.50 187.00H189.50M188.00 183.60H189.50M188.00 180.20H189.50M189.50 238.00V241.00M193.94 238.00V239.70M196.54 238.00V239.70M198.38 238.00V239.70M199.81 238.00V239.70M200.98 238.00V239.70M201.97 238.00V239.70M202.82 238.00V239.70M203.58 238.00V239.70M204.25 238.00V241.00M208.69 238.00V239.70M211.29 238.00V239.70M213.13 238.00V239.70M214.56 238.00V239.70M215.73 238.00V239.70M216.72 238.00V239.70M217.57 238.00V239.70M218.33 238.00V239.70M219.00 238.00V241.00M223.44 238.00V239.70M226.04 238.00V239.70M227.88 238.00V239.70M229.31 238.00V239.70M230.48 238.00V239.70M231.47 238.00V239.70M232.32 238.00V239.70M233.08 238.00V239.70M233.75 238.00V241.00M238.19 238.00V239.70M240.79 238.00V239.70M242.63 238.00V239.70M244.06 238.00V239.70M245.23 238.00V239.70M246.22 238.00V239.70M247.07 238.00V239.70M247.83 238.00V239.70M248.50 238.00V241.00" stroke="#383838" stroke-width="0.75" fill="none"/>
<text x="185.10" y="250.30" font-size="5.5" fill="#1e1e1e">10</text>
<text x="191.51" y="246.90" font-size="4.3" fill="#1e1e1e">0</text>
<text x="199.85" y="250.30" font-size="5.5" fill="#1e1e1e">10</text>
<text x="206.26" y="246.90" font-size="4.3" fill="#1e1e1e">1</text>
<text x="214.60" y="250.30" font-size="5.5" fill="#1e1e1e">10</text>
<text x="221.01" y="246.90" font-size="4.3" fill="#1e1e1e">2</text>
<text x="229.35" y="250.30" font-size="5.5" fill="#1e1e1e">10</text>
<text x="235.76" y="246.90" font-size="4.3" fill="#1e1e1e">3</text>
<text x="242.60" y="250.30" font-size="5.5" fill="#1e1e1e">10</text>
<text x="249.01" y="246.90" font-size="4.3" fill="#1e1e1e">4</text>
<clipPath id="cA30"><rect x="32.50" y="257.50" width="59.00" height="58.60"/></clipPath>
<g clip-path="url(#cA30)" fill="none" stroke-width="0.9" stroke-linejoin="round">
<path d="M35.00,315.50 C35.43,315.45 36.93,315.42 37.60,315.20 C38.27,314.98 38.43,315.23 39.00,314.20 C39.57,313.17 40.42,311.62 41.00,309.00 C41.58,306.38 42.02,302.50 42.50,298.50 C42.98,294.50 43.48,289.17 43.90,285.00 C44.32,280.83 44.68,276.33 45.00,273.50 C45.32,270.67 45.57,269.17 45.80,268.00 C46.03,266.83 46.18,266.42 46.40,266.50 C46.62,266.58 46.87,267.17 47.10,268.50 C47.33,269.83 47.43,271.25 47.80,274.50 C48.17,277.75 48.80,283.70 49.30,288.00 C49.80,292.30 50.28,296.80 50.80,300.30 C51.32,303.80 51.77,306.72 52.40,309.00 C53.03,311.28 53.85,312.95 54.60,314.00 C55.35,315.05 55.83,315.05 56.90,315.30 C57.97,315.55 60.32,315.47 61.00,315.50" stroke="#d8223f" stroke-opacity="0.9"/>
<path d="M35.00,315.50 C35.43,315.45 36.93,315.45 37.60,315.20 C38.27,314.95 38.43,315.08 39.00,314.00 C39.57,312.92 40.42,311.37 41.00,308.70 C41.58,306.03 42.02,302.17 42.50,298.00 C42.98,293.83 43.48,288.15 43.90,283.70 C44.32,279.25 44.70,274.33 45.00,271.30 C45.30,268.27 45.48,267.00 45.70,265.50 C45.92,264.00 46.08,262.22 46.30,262.30 C46.52,262.38 46.75,264.22 47.00,266.00 C47.25,267.78 47.42,269.45 47.80,273.00 C48.18,276.55 48.80,282.83 49.30,287.30 C49.80,291.77 50.28,296.23 50.80,299.80 C51.32,303.37 51.77,306.38 52.40,308.70 C53.03,311.02 53.85,312.60 54.60,313.70 C55.35,314.80 55.67,315.00 56.90,315.30 C58.13,315.60 56.32,315.47 62.00,315.50 C67.68,315.53 86.17,315.50 91.00,315.50" stroke="#3a70b0" stroke-opacity="0.8"/>
</g>
<rect x="32.50" y="257.50" width="59.00" height="58.00" fill="none" stroke="#383838" stroke-width="1"/>
<text x="28.30" y="317.45" font-size="5.5" text-anchor="end" fill="#1e1e1e">0</text>
<text x="28.30" y="302.95" font-size="5.5" text-anchor="end" fill="#1e1e1e">100</text>
<text x="28.30" y="288.45" font-size="5.5" text-anchor="end" fill="#1e1e1e">200</text>
<text x="28.30" y="273.95" font-size="5.5" text-anchor="end" fill="#1e1e1e">300</text>
<text x="28.30" y="259.45" font-size="5.5" text-anchor="end" fill="#1e1e1e">400</text>
<path d="M29.50 315.50H32.50M31.00 312.60H32.50M31.00 309.70H32.50M31.00 306.80H32.50M31.00 303.90H32.50M29.50 301.00H32.50M31.00 298.10H32.50M31.00 295.20H32.50M31.00 292.30H32.50M31.00 289.40H32.50M29.50 286.50H32.50M31.00 283.60H32.50M31.00 280.70H32.50M31.00 277.80H32.50M31.00 274.90H32.50M29.50 272.00H32.50M31.00 269.10H32.50M31.00 266.20H32.50M31.00 263.30H32.50M31.00 260.40H32.50M29.50 257.50H32.50M32.50 315.50V318.50M36.94 315.50V317.20M39.54 315.50V317.20M41.38 315.50V317.20M42.81 315.50V317.20M43.98 315.50V317.20M44.97 315.50V317.20M45.82 315.50V317.20M46.58 315.50V317.20M47.25 315.50V318.50M51.69 315.50V317.20M54.29 315.50V317.20M56.13 315.50V317.20M57.56 315.50V317.20M58.73 315.50V317.20M59.72 315.50V317.20M60.57 315.50V317.20M61.33 315.50V317.20M62.00 315.50V318.50M66.44 315.50V317.20M69.04 315.50V317.20M70.88 315.50V317.20M72.31 315.50V317.20M73.48 315.50V317.20M74.47 315.50V317.20M75.32 315.50V317.20M76.08 315.50V317.20M76.75 315.50V318.50M81.19 315.50V317.20M83.79 315.50V317.20M85.63 315.50V317.20M87.06 315.50V317.20M88.23 315.50V317.20M89.22 315.50V317.20M90.07 315.50V317.20M90.83 315.50V317.20M91.50 315.50V318.50" stroke="#383838" stroke-width="0.75" fill="none"/>
<text x="28.10" y="327.80" font-size="5.5" fill="#1e1e1e">10</text>
<text x="34.51" y="324.40" font-size="4.3" fill="#1e1e1e">0</text>
<text x="42.85" y="327.80" font-size="5.5" fill="#1e1e1e">10</text>
<text x="49.26" y="324.40" font-size="4.3" fill="#1e1e1e">1</text>
<text x="57.60" y="327.80" font-size="5.5" fill="#1e1e1e">10</text>
<text x="64.01" y="324.40" font-size="4.3" fill="#1e1e1e">2</text>
<text x="72.35" y="327.80" font-size="5.5" fill="#1e1e1e">10</text>
<text x="78.76" y="324.40" font-size="4.3" fill="#1e1e1e">3</text>
<text x="85.60" y="327.80" font-size="5.5" fill="#1e1e1e">10</text>
<text x="92.01" y="324.40" font-size="4.3" fill="#1e1e1e">4</text>
<clipPath id="cA31"><rect x="111.50" y="257.50" width="59.00" height="58.60"/></clipPath>
<g clip-path="url(#cA31)" fill="none" stroke-width="0.9" stroke-linejoin="round">
<path d="M112.00,315.50 C112.50,315.48 114.12,315.48 115.00,315.40 C115.88,315.32 116.62,315.82 117.30,315.00 C117.98,314.18 118.55,312.73 119.10,310.50 C119.65,308.27 120.15,305.17 120.60,301.60 C121.05,298.03 121.38,293.57 121.80,289.10 C122.22,284.63 122.73,278.65 123.10,274.80 C123.47,270.95 123.72,268.13 124.00,266.00 C124.28,263.87 124.53,262.17 124.80,262.00 C125.07,261.83 125.35,263.45 125.60,265.00 C125.85,266.55 125.95,267.88 126.30,271.30 C126.65,274.72 127.27,281.05 127.70,285.50 C128.13,289.95 128.45,294.28 128.90,298.00 C129.35,301.72 129.88,305.42 130.40,307.80 C130.92,310.18 131.50,311.07 132.00,312.30 C132.50,313.53 132.73,314.67 133.40,315.20 C134.07,315.73 135.57,315.45 136.00,315.50" stroke="#d8223f" stroke-opacity="0.9"/>
<path d="M112.00,315.50 C113.17,315.48 117.37,315.45 119.00,315.40 C120.63,315.35 120.97,315.60 121.80,315.20 C122.63,314.80 123.25,313.85 124.00,313.00 C124.75,312.15 125.55,310.40 126.30,310.10 C127.05,309.80 127.77,310.83 128.50,311.20 C129.23,311.57 130.03,312.37 130.70,312.30 C131.37,312.23 131.90,311.40 132.50,310.80 C133.10,310.20 133.42,309.50 134.30,308.70 C135.18,307.90 136.77,306.83 137.80,306.00 C138.83,305.17 139.60,304.88 140.50,303.70 C141.40,302.52 142.37,300.45 143.20,298.90 C144.03,297.35 144.82,295.43 145.50,294.40 C146.18,293.37 146.77,292.75 147.30,292.70 C147.83,292.65 148.23,293.97 148.70,294.10 C149.17,294.23 149.62,293.00 150.10,293.50 C150.58,294.00 151.05,295.47 151.60,297.10 C152.15,298.73 152.82,301.22 153.40,303.30 C153.98,305.38 154.42,307.73 155.10,309.60 C155.78,311.47 156.82,313.55 157.50,314.50 C158.18,315.45 158.45,315.13 159.20,315.30 C159.95,315.47 160.20,315.47 162.00,315.50 C163.80,315.53 168.67,315.50 170.00,315.50" stroke="#432a6c" stroke-opacity="0.9"/>
</g>
<rect x="111.50" y="257.50" width="59.00" height="58.00" fill="none" stroke="#383838" stroke-width="1"/>
<text x="107.30" y="317.45" font-size="5.5" text-anchor="end" fill="#1e1e1e">0</text>
<text x="107.30" y="301.12" font-size="5.5" text-anchor="end" fill="#1e1e1e">100</text>
<text x="107.30" y="284.78" font-size="5.5" text-anchor="end" fill="#1e1e1e">200</text>
<text x="107.30" y="268.45" font-size="5.5" text-anchor="end" fill="#1e1e1e">300</text>
<path d="M108.50 315.50H111.50M110.00 312.23H111.50M110.00 308.97H111.50M110.00 305.70H111.50M110.00 302.43H111.50M108.50 299.17H111.50M110.00 295.90H111.50M110.00 292.63H111.50M110.00 289.37H111.50M110.00 286.10H111.50M108.50 282.83H111.50M110.00 279.57H111.50M110.00 276.30H111.50M110.00 273.03H111.50M110.00 269.77H111.50M108.50 266.50H111.50M110.00 263.23H111.50M110.00 259.97H111.50M111.50 315.50V318.50M115.94 315.50V317.20M118.54 315.50V317.20M120.38 315.50V317.20M121.81 315.50V317.20M122.98 315.50V317.20M123.97 315.50V317.20M124.82 315.50V317.20M125.58 315.50V317.20M126.25 315.50V318.50M130.69 315.50V317.20M133.29 315.50V317.20M135.13 315.50V317.20M136.56 315.50V317.20M137.73 315.50V317.20M138.72 315.50V317.20M139.57 315.50V317.20M140.33 315.50V317.20M141.00 315.50V318.50M145.44 315.50V317.20M148.04 315.50V317.20M149.88 315.50V317.20M151.31 315.50V317.20M152.48 315.50V317.20M153.47 315.50V317.20M154.32 315.50V317.20M155.08 315.50V317.20M155.75 315.50V318.50M160.19 315.50V317.20M162.79 315.50V317.20M164.63 315.50V317.20M166.06 315.50V317.20M167.23 315.50V317.20M168.22 315.50V317.20M169.07 315.50V317.20M169.83 315.50V317.20M170.50 315.50V318.50" stroke="#383838" stroke-width="0.75" fill="none"/>
<text x="107.10" y="327.80" font-size="5.5" fill="#1e1e1e">10</text>
<text x="113.51" y="324.40" font-size="4.3" fill="#1e1e1e">0</text>
<text x="121.85" y="327.80" font-size="5.5" fill="#1e1e1e">10</text>
<text x="128.26" y="324.40" font-size="4.3" fill="#1e1e1e">1</text>
<text x="136.60" y="327.80" font-size="5.5" fill="#1e1e1e">10</text>
<text x="143.01" y="324.40" font-size="4.3" fill="#1e1e1e">2</text>
<text x="151.35" y="327.80" font-size="5.5" fill="#1e1e1e">10</text>
<text x="157.76" y="324.40" font-size="4.3" fill="#1e1e1e">3</text>
<text x="164.60" y="327.80" font-size="5.5" fill="#1e1e1e">10</text>
<text x="171.01" y="324.40" font-size="4.3" fill="#1e1e1e">4</text>
<clipPath id="cA32"><rect x="189.50" y="257.50" width="59.00" height="58.60"/></clipPath>
<g clip-path="url(#cA32)" fill="none" stroke-width="0.9" stroke-linejoin="round">
<path d="M190.00,315.50 C190.67,315.47 192.97,315.42 194.00,315.30 C195.03,315.18 195.43,315.85 196.20,314.80 C196.97,313.75 197.93,311.72 198.60,309.00 C199.27,306.28 199.70,302.25 200.20,298.50 C200.70,294.75 201.17,290.25 201.60,286.50 C202.03,282.75 202.47,278.42 202.80,276.00 C203.13,273.58 203.37,272.78 203.60,272.00 C203.83,271.22 203.97,271.13 204.20,271.30 C204.43,271.47 204.75,272.05 205.00,273.00 C205.25,273.95 205.32,274.42 205.70,277.00 C206.08,279.58 206.73,284.62 207.30,288.50 C207.87,292.38 208.50,296.88 209.10,300.30 C209.70,303.72 210.22,306.72 210.90,309.00 C211.58,311.28 212.52,312.95 213.20,314.00 C213.88,315.05 214.20,315.05 215.00,315.30 C215.80,315.55 217.50,315.47 218.00,315.50" stroke="#d8223f" stroke-opacity="0.9"/>
<path d="M190.00,315.50 C190.67,315.47 192.97,315.42 194.00,315.30 C195.03,315.18 195.43,315.90 196.20,314.80 C196.97,313.70 197.93,311.50 198.60,308.70 C199.27,305.90 199.70,301.87 200.20,298.00 C200.70,294.13 201.17,289.67 201.60,285.50 C202.03,281.33 202.47,276.08 202.80,273.00 C203.13,269.92 203.35,268.48 203.60,267.00 C203.85,265.52 204.07,264.10 204.30,264.10 C204.53,264.10 204.77,265.22 205.00,267.00 C205.23,268.78 205.32,271.42 205.70,274.80 C206.08,278.18 206.73,283.13 207.30,287.30 C207.87,291.47 208.50,296.23 209.10,299.80 C209.70,303.37 210.22,306.38 210.90,308.70 C211.58,311.02 212.52,312.60 213.20,313.70 C213.88,314.80 214.20,315.00 215.00,315.30 C215.80,315.60 212.50,315.47 218.00,315.50 C223.50,315.53 243.00,315.50 248.00,315.50" stroke="#3cb050" stroke-opacity="0.8"/>
</g>
<rect x="189.50" y="257.50" width="59.00" height="58.00" fill="none" stroke="#383838" stroke-width="1"/>
<text x="185.30" y="317.45" font-size="5.5" text-anchor="end" fill="#1e1e1e">0</text>
<text x="185.30" y="303.65" font-size="5.5" text-anchor="end" fill="#1e1e1e">100</text>
<text x="185.30" y="289.85" font-size="5.5" text-anchor="end" fill="#1e1e1e">200</text>
<text x="185.30" y="276.05" font-size="5.5" text-anchor="end" fill="#1e1e1e">300</text>
<text x="185.30" y="262.25" font-size="5.5" text-anchor="end" fill="#1e1e1e">400</text>
<path d="M186.50 315.50H189.50M188.00 312.74H189.50M188.00 309.98H189.50M188.00 307.22H189.50M188.00 304.46H189.50M186.50 301.70H189.50M188.00 298.94H189.50M188.00 296.18H189.50M188.00 293.42H189.50M188.00 290.66H189.50M186.50 287.90H189.50M188.00 285.14H189.50M188.00 282.38H189.50M188.00 279.62H189.50M188.00 276.86H189.50M186.50 274.10H189.50M188.00 271.34H189.50M188.00 268.58H189.50M188.00 265.82H189.50M188.00 263.06H189.50M186.50 260.30H189.50M188.00 257.54H189.50M189.50 315.50V318.50M193.94 315.50V317.20M196.54 315.50V317.20M198.38 315.50V317.20M199.81 315.50V317.20M200.98 315.50V317.20M201.97 315.50V317.20M202.82 315.50V317.20M203.58 315.50V317.20M204.25 315.50V318.50M208.69 315.50V317.20M211.29 315.50V317.20M213.13 315.50V317.20M214.56 315.50V317.20M215.73 315.50V317.20M216.72 315.50V317.20M217.57 315.50V317.20M218.33 315.50V317.20M219.00 315.50V318.50M223.44 315.50V317.20M226.04 315.50V317.20M227.88 315.50V317.20M229.31 315.50V317.20M230.48 315.50V317.20M231.47 315.50V317.20M232.32 315.50V317.20M233.08 315.50V317.20M233.75 315.50V318.50M238.19 315.50V317.20M240.79 315.50V317.20M242.63 315.50V317.20M244.06 315.50V317.20M245.23 315.50V317.20M246.22 315.50V317.20M247.07 315.50V317.20M247.83 315.50V317.20M248.50 315.50V318.50" stroke="#383838" stroke-width="0.75" fill="none"/>
<text x="185.10" y="327.80" font-size="5.5" fill="#1e1e1e">10</text>
<text x="191.51" y="324.40" font-size="4.3" fill="#1e1e1e">0</text>
<text x="199.85" y="327.80" font-size="5.5" fill="#1e1e1e">10</text>
<text x="206.26" y="324.40" font-size="4.3" fill="#1e1e1e">1</text>
<text x="214.60" y="327.80" font-size="5.5" fill="#1e1e1e">10</text>
<text x="221.01" y="324.40" font-size="4.3" fill="#1e1e1e">2</text>
<text x="229.35" y="327.80" font-size="5.5" fill="#1e1e1e">10</text>
<text x="235.76" y="324.40" font-size="4.3" fill="#1e1e1e">3</text>
<text x="242.60" y="327.80" font-size="5.5" fill="#1e1e1e">10</text>
<text x="249.01" y="324.40" font-size="4.3" fill="#1e1e1e">4</text>
<clipPath id="cB00"><rect x="292.50" y="32.50" width="59.00" height="58.10"/></clipPath>
<g clip-path="url(#cB00)" fill="none" stroke-width="0.9" stroke-linejoin="round">
<path d="M292.80,81.30 C293.07,80.43 293.70,78.40 294.40,76.10 C295.10,73.80 296.13,70.67 297.00,67.50 C297.87,64.33 298.88,60.27 299.60,57.10 C300.32,53.93 300.80,51.22 301.30,48.50 C301.80,45.78 302.22,42.75 302.60,40.80 C302.98,38.85 303.32,37.10 303.60,36.80 C303.88,36.50 304.10,37.92 304.30,39.00 C304.50,40.08 304.52,40.57 304.80,43.30 C305.08,46.03 305.60,51.37 306.00,55.40 C306.40,59.43 306.77,63.77 307.20,67.50 C307.63,71.23 308.13,74.93 308.60,77.80 C309.07,80.67 309.48,82.78 310.00,84.70 C310.52,86.62 311.12,88.42 311.70,89.30 C312.28,90.18 313.20,89.88 313.50,90.00" stroke="#d8223f" stroke-opacity="0.9"/>
<path d="M292.80,84.70 C293.22,83.55 294.45,80.38 295.30,77.80 C296.15,75.22 297.03,72.35 297.90,69.20 C298.77,66.05 299.78,62.20 300.50,58.90 C301.22,55.60 301.72,52.13 302.20,49.40 C302.68,46.67 303.05,44.08 303.40,42.50 C303.75,40.92 304.00,39.90 304.30,39.90 C304.60,39.90 304.88,39.85 305.20,42.50 C305.52,45.15 305.83,51.55 306.20,55.80 C306.57,60.05 306.97,64.27 307.40,68.00 C307.83,71.73 308.33,75.37 308.80,78.20 C309.27,81.03 309.68,83.15 310.20,85.00 C310.72,86.85 311.27,88.47 311.90,89.30 C312.53,90.13 307.48,89.88 314.00,90.00 C320.52,90.12 344.83,90.00 351.00,90.00" stroke="#2c5670" stroke-opacity="0.85"/>
</g>
<rect x="292.50" y="32.50" width="59.00" height="57.50" fill="none" stroke="#383838" stroke-width="1"/>
<text x="288.30" y="91.95" font-size="5.5" text-anchor="end" fill="#1e1e1e">0</text>
<text x="288.30" y="79.20" font-size="5.5" text-anchor="end" fill="#1e1e1e">100</text>
<text x="288.30" y="66.45" font-size="5.5" text-anchor="end" fill="#1e1e1e">200</text>
<text x="288.30" y="53.70" font-size="5.5" text-anchor="end" fill="#1e1e1e">300</text>
<text x="288.30" y="40.95" font-size="5.5" text-anchor="end" fill="#1e1e1e">400</text>
<path d="M289.50 90.00H292.50M291.00 87.45H292.50M291.00 84.90H292.50M291.00 82.35H292.50M291.00 79.80H292.50M289.50 77.25H292.50M291.00 74.70H292.50M291.00 72.15H292.50M291.00 69.60H292.50M291.00 67.05H292.50M289.50 64.50H292.50M291.00 61.95H292.50M291.00 59.40H292.50M291.00 56.85H292.50M291.00 54.30H292.50M289.50 51.75H292.50M291.00 49.20H292.50M291.00 46.65H292.50M291.00 44.10H292.50M291.00 41.55H292.50M289.50 39.00H292.50M291.00 36.45H292.50M291.00 33.90H292.50M292.50 90.00V93.00M296.94 90.00V91.70M299.54 90.00V91.70M301.38 90.00V91.70M302.81 90.00V91.70M303.98 90.00V91.70M304.97 90.00V91.70M305.82 90.00V91.70M306.58 90.00V91.70M307.25 90.00V93.00M311.69 90.00V91.70M314.29 90.00V91.70M316.13 90.00V91.70M317.56 90.00V91.70M318.73 90.00V91.70M319.72 90.00V91.70M320.57 90.00V91.70M321.33 90.00V91.70M322.00 90.00V93.00M326.44 90.00V91.70M329.04 90.00V91.70M330.88 90.00V91.70M332.31 90.00V91.70M333.48 90.00V91.70M334.47 90.00V91.70M335.32 90.00V91.70M336.08 90.00V91.70M336.75 90.00V93.00M341.19 90.00V91.70M343.79 90.00V91.70M345.63 90.00V91.70M347.06 90.00V91.70M348.23 90.00V91.70M349.22 90.00V91.70M350.07 90.00V91.70M350.83 90.00V91.70M351.50 90.00V93.00" stroke="#383838" stroke-width="0.75" fill="none"/>
<text x="287.38" y="102.30" font-size="5.5" fill="#1e1e1e">10</text>
<text x="293.80" y="98.90" font-size="4.3" fill="#1e1e1e">-1</text>
<text x="302.85" y="102.30" font-size="5.5" fill="#1e1e1e">10</text>
<text x="309.26" y="98.90" font-size="4.3" fill="#1e1e1e">0</text>
<text x="317.60" y="102.30" font-size="5.5" fill="#1e1e1e">10</text>
<text x="324.01" y="98.90" font-size="4.3" fill="#1e1e1e">1</text>
<text x="332.35" y="102.30" font-size="5.5" fill="#1e1e1e">10</text>
<text x="338.76" y="98.90" font-size="4.3" fill="#1e1e1e">2</text>
<text x="345.60" y="102.30" font-size="5.5" fill="#1e1e1e">10</text>
<text x="352.01" y="98.90" font-size="4.3" fill="#1e1e1e">3</text>
<clipPath id="cB01"><rect x="371.50" y="32.50" width="59.00" height="58.10"/></clipPath>
<g clip-path="url(#cB01)" fill="none" stroke-width="0.9" stroke-linejoin="round">
<path d="M371.80,83.70 C372.10,82.80 372.87,80.98 373.60,78.30 C374.33,75.62 375.37,71.45 376.20,67.60 C377.03,63.75 377.92,58.62 378.60,55.20 C379.28,51.78 379.80,48.68 380.30,47.10 C380.80,45.52 381.18,44.95 381.60,45.70 C382.02,46.45 382.35,48.25 382.80,51.60 C383.25,54.95 383.82,61.05 384.30,65.80 C384.78,70.55 385.27,76.53 385.70,80.10 C386.13,83.67 386.45,85.55 386.90,87.20 C387.35,88.85 387.88,89.53 388.40,90.00 C388.92,90.47 389.73,90.00 390.00,90.00" stroke="#d8223f" stroke-opacity="0.9"/>
<path d="M389.00,90.00 C390.17,89.97 393.67,89.88 396.00,89.80 C398.33,89.72 401.17,89.62 403.00,89.50 C404.83,89.38 405.97,89.33 407.00,89.10 C408.03,88.87 408.48,89.30 409.20,88.10 C409.92,86.90 410.57,85.32 411.30,81.90 C412.03,78.48 412.82,72.95 413.60,67.60 C414.38,62.25 415.40,54.55 416.00,49.80 C416.60,45.05 416.85,41.23 417.20,39.10 C417.55,36.97 417.75,36.40 418.10,37.00 C418.45,37.60 418.85,39.08 419.30,42.70 C419.75,46.32 420.32,53.35 420.80,58.70 C421.28,64.05 421.77,70.48 422.20,74.80 C422.63,79.12 422.90,82.15 423.40,84.60 C423.90,87.05 424.60,88.60 425.20,89.50 C425.80,90.40 426.12,89.92 427.00,90.00 C427.88,90.08 429.92,90.00 430.50,90.00" stroke="#432a6c" stroke-opacity="0.9"/>
</g>
<rect x="371.50" y="32.50" width="59.00" height="57.50" fill="none" stroke="#383838" stroke-width="1"/>
<line x1="371.50" y1="32.50" x2="371.50" y2="90.00" stroke="#d8223f" stroke-width="0.8" opacity="0.75"/>
<text x="367.30" y="91.95" font-size="5.5" text-anchor="end" fill="#1e1e1e">0</text>
<text x="367.30" y="72.85" font-size="5.5" text-anchor="end" fill="#1e1e1e">200</text>
<text x="367.30" y="53.75" font-size="5.5" text-anchor="end" fill="#1e1e1e">400</text>
<text x="367.30" y="34.65" font-size="5.5" text-anchor="end" fill="#1e1e1e">600</text>
<path d="M368.50 90.00H371.50M370.00 86.18H371.50M370.00 82.36H371.50M370.00 78.54H371.50M370.00 74.72H371.50M368.50 70.90H371.50M370.00 67.08H371.50M370.00 63.26H371.50M370.00 59.44H371.50M370.00 55.62H371.50M368.50 51.80H371.50M370.00 47.98H371.50M370.00 44.16H371.50M370.00 40.34H371.50M370.00 36.52H371.50M368.50 32.70H371.50M371.50 90.00V93.00M375.44 90.00V91.70M377.75 90.00V91.70M379.39 90.00V91.70M380.66 90.00V91.70M381.69 90.00V91.70M382.57 90.00V91.70M383.33 90.00V91.70M384.00 90.00V91.70M384.60 90.00V93.00M388.54 90.00V91.70M390.85 90.00V91.70M392.49 90.00V91.70M393.76 90.00V91.70M394.79 90.00V91.70M395.67 90.00V91.70M396.43 90.00V91.70M397.10 90.00V91.70M397.70 90.00V93.00M401.64 90.00V91.70M403.95 90.00V91.70M405.59 90.00V91.70M406.86 90.00V91.70M407.89 90.00V91.70M408.77 90.00V91.70M409.53 90.00V91.70M410.20 90.00V91.70M410.80 90.00V93.00M414.74 90.00V91.70M417.05 90.00V91.70M418.69 90.00V91.70M419.96 90.00V91.70M420.99 90.00V91.70M421.87 90.00V91.70M422.63 90.00V91.70M423.30 90.00V91.70M423.90 90.00V93.00M427.84 90.00V91.70M430.15 90.00V91.70" stroke="#383838" stroke-width="0.75" fill="none"/>
<text x="366.38" y="102.30" font-size="5.5" fill="#1e1e1e">10</text>
<text x="372.80" y="98.90" font-size="4.3" fill="#1e1e1e">-1</text>
<text x="380.20" y="102.30" font-size="5.5" fill="#1e1e1e">10</text>
<text x="386.61" y="98.90" font-size="4.3" fill="#1e1e1e">0</text>
<text x="393.30" y="102.30" font-size="5.5" fill="#1e1e1e">10</text>
<text x="399.71" y="98.90" font-size="4.3" fill="#1e1e1e">1</text>
<text x="406.40" y="102.30" font-size="5.5" fill="#1e1e1e">10</text>
<text x="412.81" y="98.90" font-size="4.3" fill="#1e1e1e">2</text>
<text x="419.50" y="102.30" font-size="5.5" fill="#1e1e1e">10</text>
<text x="425.91" y="98.90" font-size="4.3" fill="#1e1e1e">3</text>
<clipPath id="cB02"><rect x="450.50" y="32.50" width="59.00" height="58.10"/></clipPath>
<g clip-path="url(#cB02)" fill="none" stroke-width="0.9" stroke-linejoin="round">
<path d="M450.80,78.70 C451.02,78.42 451.53,78.43 452.10,77.00 C452.67,75.57 453.52,72.83 454.20,70.10 C454.88,67.37 455.57,63.62 456.20,60.60 C456.83,57.58 457.48,54.88 458.00,52.00 C458.52,49.12 458.85,45.83 459.30,43.30 C459.75,40.77 460.28,37.37 460.70,36.80 C461.12,36.23 461.45,37.70 461.80,39.90 C462.15,42.10 462.40,46.15 462.80,50.00 C463.20,53.85 463.77,59.00 464.20,63.00 C464.63,67.00 464.97,70.82 465.40,74.00 C465.83,77.18 466.32,80.03 466.80,82.10 C467.28,84.17 467.77,85.12 468.30,86.40 C468.83,87.68 469.38,89.20 470.00,89.80 C470.62,90.40 471.67,89.97 472.00,90.00" stroke="#d8223f" stroke-opacity="0.9"/>
<path d="M450.80,80.00 C451.02,79.75 451.53,79.92 452.10,78.50 C452.67,77.08 453.52,74.17 454.20,71.50 C454.88,68.83 455.57,65.25 456.20,62.50 C456.83,59.75 457.45,57.33 458.00,55.00 C458.55,52.67 459.08,50.08 459.50,48.50 C459.92,46.92 460.18,46.22 460.50,45.50 C460.82,44.78 461.12,43.95 461.40,44.20 C461.68,44.45 461.97,45.70 462.20,47.00 C462.43,48.30 462.47,49.17 462.80,52.00 C463.13,54.83 463.77,60.27 464.20,64.00 C464.63,67.73 464.97,71.38 465.40,74.40 C465.83,77.42 466.32,80.10 466.80,82.10 C467.28,84.10 467.77,85.12 468.30,86.40 C468.83,87.68 469.38,89.20 470.00,89.80 C470.62,90.40 465.50,89.97 472.00,90.00 C478.50,90.03 502.83,90.00 509.00,90.00" stroke="#3cb050" stroke-opacity="0.8"/>
</g>
<rect x="450.50" y="32.50" width="59.00" height="57.50" fill="none" stroke="#383838" stroke-width="1"/>
<line x1="450.50" y1="32.50" x2="450.50" y2="90.00" stroke="#3cb050" stroke-width="0.8" opacity="0.75"/>
<text x="446.30" y="91.95" font-size="5.5" text-anchor="end" fill="#1e1e1e">0</text>
<text x="446.30" y="79.20" font-size="5.5" text-anchor="end" fill="#1e1e1e">100</text>
<text x="446.30" y="66.45" font-size="5.5" text-anchor="end" fill="#1e1e1e">200</text>
<text x="446.30" y="53.70" font-size="5.5" text-anchor="end" fill="#1e1e1e">300</text>
<text x="446.30" y="40.95" font-size="5.5" text-anchor="end" fill="#1e1e1e">400</text>
<path d="M447.50 90.00H450.50M449.00 87.45H450.50M449.00 84.90H450.50M449.00 82.35H450.50M449.00 79.80H450.50M447.50 77.25H450.50M449.00 74.70H450.50M449.00 72.15H450.50M449.00 69.60H450.50M449.00 67.05H450.50M447.50 64.50H450.50M449.00 61.95H450.50M449.00 59.40H450.50M449.00 56.85H450.50M449.00 54.30H450.50M447.50 51.75H450.50M449.00 49.20H450.50M449.00 46.65H450.50M449.00 44.10H450.50M449.00 41.55H450.50M447.50 39.00H450.50M449.00 36.45H450.50M449.00 33.90H450.50M450.50 90.00V93.00M454.94 90.00V91.70M457.54 90.00V91.70M459.38 90.00V91.70M460.81 90.00V91.70M461.98 90.00V91.70M462.97 90.00V91.70M463.82 90.00V91.70M464.58 90.00V91.70M465.25 90.00V93.00M469.69 90.00V91.70M472.29 90.00V91.70M474.13 90.00V91.70M475.56 90.00V91.70M476.73 90.00V91.70M477.72 90.00V91.70M478.57 90.00V91.70M479.33 90.00V91.70M480.00 90.00V93.00M484.44 90.00V91.70M487.04 90.00V91.70M488.88 90.00V91.70M490.31 90.00V91.70M491.48 90.00V91.70M492.47 90.00V91.70M493.32 90.00V91.70M494.08 90.00V91.70M494.75 90.00V93.00M499.19 90.00V91.70M501.79 90.00V91.70M503.63 90.00V91.70M505.06 90.00V91.70M506.23 90.00V91.70M507.22 90.00V91.70M508.07 90.00V91.70M508.83 90.00V91.70M509.50 90.00V93.00" stroke="#383838" stroke-width="0.75" fill="none"/>
<text x="445.38" y="102.30" font-size="5.5" fill="#1e1e1e">10</text>
<text x="451.80" y="98.90" font-size="4.3" fill="#1e1e1e">-1</text>
<text x="460.85" y="102.30" font-size="5.5" fill="#1e1e1e">10</text>
<text x="467.26" y="98.90" font-size="4.3" fill="#1e1e1e">0</text>
<text x="475.60" y="102.30" font-size="5.5" fill="#1e1e1e">10</text>
<text x="482.01" y="98.90" font-size="4.3" fill="#1e1e1e">1</text>
<text x="490.35" y="102.30" font-size="5.5" fill="#1e1e1e">10</text>
<text x="496.76" y="98.90" font-size="4.3" fill="#1e1e1e">2</text>
<text x="503.60" y="102.30" font-size="5.5" fill="#1e1e1e">10</text>
<text x="510.01" y="98.90" font-size="4.3" fill="#1e1e1e">3</text>
<clipPath id="cB10"><rect x="292.50" y="106.50" width="59.00" height="57.60"/></clipPath>
<g clip-path="url(#cB10)" fill="none" stroke-width="0.9" stroke-linejoin="round">
<path d="M292.80,156.00 C293.07,155.43 293.70,154.18 294.40,152.60 C295.10,151.02 296.27,148.67 297.00,146.50 C297.73,144.33 298.22,142.33 298.80,139.60 C299.38,136.87 299.93,133.40 300.50,130.10 C301.07,126.80 301.72,122.82 302.20,119.80 C302.68,116.78 303.05,113.67 303.40,112.00 C303.75,110.33 304.02,109.37 304.30,109.80 C304.58,110.23 304.73,111.78 305.10,114.60 C305.47,117.42 306.07,122.67 306.50,126.70 C306.93,130.73 307.27,135.07 307.70,138.80 C308.13,142.53 308.67,146.23 309.10,149.10 C309.53,151.97 309.87,154.13 310.30,156.00 C310.73,157.87 311.23,159.13 311.70,160.30 C312.17,161.47 312.55,162.47 313.10,163.00 C313.65,163.53 314.68,163.42 315.00,163.50" stroke="#d8223f" stroke-opacity="0.9"/>
<path d="M292.80,157.70 C293.10,157.08 293.87,155.62 294.60,154.00 C295.33,152.38 296.43,150.17 297.20,148.00 C297.97,145.83 298.57,143.67 299.20,141.00 C299.83,138.33 300.43,135.00 301.00,132.00 C301.57,129.00 302.17,125.58 302.60,123.00 C303.03,120.42 303.30,118.03 303.60,116.50 C303.90,114.97 304.12,113.80 304.40,113.80 C304.68,113.80 304.93,114.22 305.30,116.50 C305.67,118.78 306.18,123.72 306.60,127.50 C307.02,131.28 307.37,135.57 307.80,139.20 C308.23,142.83 308.77,146.50 309.20,149.30 C309.63,152.10 309.97,154.17 310.40,156.00 C310.83,157.83 311.33,159.13 311.80,160.30 C312.27,161.47 312.50,162.52 313.20,163.00 C313.90,163.48 314.87,163.23 316.00,163.20 C317.13,163.17 318.50,162.90 320.00,162.80 C321.50,162.70 323.33,162.53 325.00,162.60 C326.67,162.67 328.33,163.05 330.00,163.20 C331.67,163.35 331.50,163.45 335.00,163.50 C338.50,163.55 348.33,163.50 351.00,163.50" stroke="#2c5670" stroke-opacity="0.85"/>
</g>
<rect x="292.50" y="106.50" width="59.00" height="57.00" fill="none" stroke="#383838" stroke-width="1"/>
<text x="288.30" y="165.45" font-size="5.5" text-anchor="end" fill="#1e1e1e">0</text>
<text x="288.30" y="148.78" font-size="5.5" text-anchor="end" fill="#1e1e1e">100</text>
<text x="288.30" y="132.12" font-size="5.5" text-anchor="end" fill="#1e1e1e">200</text>
<text x="288.30" y="115.45" font-size="5.5" text-anchor="end" fill="#1e1e1e">300</text>
<path d="M289.50 163.50H292.50M291.00 160.17H292.50M291.00 156.83H292.50M291.00 153.50H292.50M291.00 150.17H292.50M289.50 146.83H292.50M291.00 143.50H292.50M291.00 140.17H292.50M291.00 136.83H292.50M291.00 133.50H292.50M289.50 130.17H292.50M291.00 126.83H292.50M291.00 123.50H292.50M291.00 120.17H292.50M291.00 116.83H292.50M289.50 113.50H292.50M291.00 110.17H292.50M291.00 106.83H292.50M292.50 163.50V166.50M296.94 163.50V165.20M299.54 163.50V165.20M301.38 163.50V165.20M302.81 163.50V165.20M303.98 163.50V165.20M304.97 163.50V165.20M305.82 163.50V165.20M306.58 163.50V165.20M307.25 163.50V166.50M311.69 163.50V165.20M314.29 163.50V165.20M316.13 163.50V165.20M317.56 163.50V165.20M318.73 163.50V165.20M319.72 163.50V165.20M320.57 163.50V165.20M321.33 163.50V165.20M322.00 163.50V166.50M326.44 163.50V165.20M329.04 163.50V165.20M330.88 163.50V165.20M332.31 163.50V165.20M333.48 163.50V165.20M334.47 163.50V165.20M335.32 163.50V165.20M336.08 163.50V165.20M336.75 163.50V166.50M341.19 163.50V165.20M343.79 163.50V165.20M345.63 163.50V165.20M347.06 163.50V165.20M348.23 163.50V165.20M349.22 163.50V165.20M350.07 163.50V165.20M350.83 163.50V165.20M351.50 163.50V166.50" stroke="#383838" stroke-width="0.75" fill="none"/>
<text x="287.38" y="175.80" font-size="5.5" fill="#1e1e1e">10</text>
<text x="293.80" y="172.40" font-size="4.3" fill="#1e1e1e">-1</text>
<text x="302.85" y="175.80" font-size="5.5" fill="#1e1e1e">10</text>
<text x="309.26" y="172.40" font-size="4.3" fill="#1e1e1e">0</text>
<text x="317.60" y="175.80" font-size="5.5" fill="#1e1e1e">10</text>
<text x="324.01" y="172.40" font-size="4.3" fill="#1e1e1e">1</text>
<text x="332.35" y="175.80" font-size="5.5" fill="#1e1e1e">10</text>
<text x="338.76" y="172.40" font-size="4.3" fill="#1e1e1e">2</text>
<text x="345.60" y="175.80" font-size="5.5" fill="#1e1e1e">10</text>
<text x="352.01" y="172.40" font-size="4.3" fill="#1e1e1e">3</text>
<clipPath id="cB11"><rect x="371.50" y="106.50" width="59.00" height="57.60"/></clipPath>
<g clip-path="url(#cB11)" fill="none" stroke-width="0.9" stroke-linejoin="round">
<path d="M371.80,158.60 C371.95,158.30 372.25,157.85 372.70,156.80 C373.15,155.75 373.92,153.93 374.50,152.30 C375.08,150.67 375.70,148.33 376.20,147.00 C376.70,145.67 377.10,145.35 377.50,144.30 C377.90,143.25 378.22,142.63 378.60,140.70 C378.98,138.77 379.40,135.07 379.80,132.70 C380.20,130.33 380.62,127.83 381.00,126.50 C381.38,125.17 381.70,124.25 382.10,124.70 C382.50,125.15 382.98,126.67 383.40,129.20 C383.82,131.73 384.22,136.35 384.60,139.90 C384.98,143.45 385.32,147.38 385.70,150.50 C386.08,153.62 386.48,156.47 386.90,158.60 C387.32,160.73 387.68,162.48 388.20,163.30 C388.72,164.12 389.70,163.47 390.00,163.50" stroke="#d8223f" stroke-opacity="0.9"/>
<path d="M389.00,163.50 C390.17,163.47 393.67,163.38 396.00,163.30 C398.33,163.22 401.17,163.12 403.00,163.00 C404.83,162.88 405.82,162.75 407.00,162.60 C408.18,162.45 409.13,162.92 410.10,162.10 C411.07,161.28 412.00,160.22 412.80,157.70 C413.60,155.18 414.25,151.17 414.90,147.00 C415.55,142.83 416.17,137.15 416.70,132.70 C417.23,128.25 417.72,123.57 418.10,120.30 C418.48,117.03 418.77,114.53 419.00,113.10 C419.23,111.67 419.27,111.55 419.50,111.70 C419.73,111.85 420.03,111.68 420.40,114.00 C420.77,116.32 421.25,121.00 421.70,125.60 C422.15,130.20 422.67,136.85 423.10,141.60 C423.53,146.35 423.80,150.83 424.30,154.10 C424.80,157.37 425.50,159.67 426.10,161.20 C426.70,162.73 427.17,162.92 427.90,163.30 C428.63,163.68 430.07,163.47 430.50,163.50" stroke="#432a6c" stroke-opacity="0.9"/>
</g>
<rect x="371.50" y="106.50" width="59.00" height="57.00" fill="none" stroke="#383838" stroke-width="1"/>
<line x1="371.50" y1="106.50" x2="371.50" y2="163.50" stroke="#d8223f" stroke-width="0.8" opacity="0.75"/>
<text x="367.30" y="165.45" font-size="5.5" text-anchor="end" fill="#1e1e1e">0</text>
<text x="367.30" y="154.61" font-size="5.5" text-anchor="end" fill="#1e1e1e">100</text>
<text x="367.30" y="143.77" font-size="5.5" text-anchor="end" fill="#1e1e1e">200</text>
<text x="367.30" y="132.93" font-size="5.5" text-anchor="end" fill="#1e1e1e">300</text>
<text x="367.30" y="122.09" font-size="5.5" text-anchor="end" fill="#1e1e1e">400</text>
<text x="367.30" y="111.25" font-size="5.5" text-anchor="end" fill="#1e1e1e">500</text>
<path d="M368.50 163.50H371.50M370.00 161.33H371.50M370.00 159.16H371.50M370.00 157.00H371.50M370.00 154.83H371.50M368.50 152.66H371.50M370.00 150.49H371.50M370.00 148.32H371.50M370.00 146.16H371.50M370.00 143.99H371.50M368.50 141.82H371.50M370.00 139.65H371.50M370.00 137.48H371.50M370.00 135.32H371.50M370.00 133.15H371.50M368.50 130.98H371.50M370.00 128.81H371.50M370.00 126.64H371.50M370.00 124.48H371.50M370.00 122.31H371.50M368.50 120.14H371.50M370.00 117.97H371.50M370.00 115.80H371.50M370.00 113.64H371.50M370.00 111.47H371.50M368.50 109.30H371.50M370.00 107.13H371.50M371.50 163.50V166.50M375.44 163.50V165.20M377.75 163.50V165.20M379.39 163.50V165.20M380.66 163.50V165.20M381.69 163.50V165.20M382.57 163.50V165.20M383.33 163.50V165.20M384.00 163.50V165.20M384.60 163.50V166.50M388.54 163.50V165.20M390.85 163.50V165.20M392.49 163.50V165.20M393.76 163.50V165.20M394.79 163.50V165.20M395.67 163.50V165.20M396.43 163.50V165.20M397.10 163.50V165.20M397.70 163.50V166.50M401.64 163.50V165.20M403.95 163.50V165.20M405.59 163.50V165.20M406.86 163.50V165.20M407.89 163.50V165.20M408.77 163.50V165.20M409.53 163.50V165.20M410.20 163.50V165.20M410.80 163.50V166.50M414.74 163.50V165.20M417.05 163.50V165.20M418.69 163.50V165.20M419.96 163.50V165.20M420.99 163.50V165.20M421.87 163.50V165.20M422.63 163.50V165.20M423.30 163.50V165.20M423.90 163.50V166.50M427.84 163.50V165.20M430.15 163.50V165.20" stroke="#383838" stroke-width="0.75" fill="none"/>
<text x="366.38" y="175.80" font-size="5.5" fill="#1e1e1e">10</text>
<text x="372.80" y="172.40" font-size="4.3" fill="#1e1e1e">-1</text>
<text x="380.20" y="175.80" font-size="5.5" fill="#1e1e1e">10</text>
<text x="386.61" y="172.40" font-size="4.3" fill="#1e1e1e">0</text>
<text x="393.30" y="175.80" font-size="5.5" fill="#1e1e1e">10</text>
<text x="399.71" y="172.40" font-size="4.3" fill="#1e1e1e">1</text>
<text x="406.40" y="175.80" font-size="5.5" fill="#1e1e1e">10</text>
<text x="412.81" y="172.40" font-size="4.3" fill="#1e1e1e">2</text>
<text x="419.50" y="175.80" font-size="5.5" fill="#1e1e1e">10</text>
<text x="425.91" y="172.40" font-size="4.3" fill="#1e1e1e">3</text>
<clipPath id="cB12"><rect x="450.50" y="106.50" width="59.00" height="57.60"/></clipPath>
<g clip-path="url(#cB12)" fill="none" stroke-width="0.9" stroke-linejoin="round">
<path d="M450.80,156.00 C451.07,155.28 451.78,153.28 452.40,151.70 C453.02,150.12 453.77,148.95 454.50,146.50 C455.23,144.05 456.13,140.30 456.80,137.00 C457.47,133.70 458.02,129.87 458.50,126.70 C458.98,123.53 459.33,120.45 459.70,118.00 C460.07,115.55 460.42,113.28 460.70,112.00 C460.98,110.72 461.12,109.80 461.40,110.30 C461.68,110.80 462.02,111.98 462.40,115.00 C462.78,118.02 463.28,124.15 463.70,128.40 C464.12,132.65 464.48,136.77 464.90,140.50 C465.32,144.23 465.75,147.93 466.20,150.80 C466.65,153.67 467.08,155.67 467.60,157.70 C468.12,159.73 468.73,162.03 469.30,163.00 C469.87,163.97 470.72,163.42 471.00,163.50" stroke="#d8223f" stroke-opacity="0.9"/>
<path d="M450.80,157.00 C451.07,156.33 451.78,154.50 452.40,153.00 C453.02,151.50 453.77,150.33 454.50,148.00 C455.23,145.67 456.13,142.08 456.80,139.00 C457.47,135.92 458.02,132.42 458.50,129.50 C458.98,126.58 459.33,123.67 459.70,121.50 C460.07,119.33 460.42,117.65 460.70,116.50 C460.98,115.35 461.12,114.55 461.40,114.60 C461.68,114.65 462.02,114.47 462.40,116.80 C462.78,119.13 463.28,124.65 463.70,128.60 C464.12,132.55 464.48,136.80 464.90,140.50 C465.32,144.20 465.75,147.93 466.20,150.80 C466.65,153.67 467.08,155.67 467.60,157.70 C468.12,159.73 468.73,162.03 469.30,163.00 C469.87,163.97 464.38,163.42 471.00,163.50 C477.62,163.58 502.67,163.50 509.00,163.50" stroke="#3cb050" stroke-opacity="0.8"/>
</g>
<rect x="450.50" y="106.50" width="59.00" height="57.00" fill="none" stroke="#383838" stroke-width="1"/>
<line x1="450.50" y1="106.50" x2="450.50" y2="163.50" stroke="#3cb050" stroke-width="0.8" opacity="0.75"/>
<text x="446.30" y="165.45" font-size="5.5" text-anchor="end" fill="#1e1e1e">0</text>
<text x="446.30" y="148.78" font-size="5.5" text-anchor="end" fill="#1e1e1e">100</text>
<text x="446.30" y="132.12" font-size="5.5" text-anchor="end" fill="#1e1e1e">200</text>
<text x="446.30" y="115.45" font-size="5.5" text-anchor="end" fill="#1e1e1e">300</text>
<path d="M447.50 163.50H450.50M449.00 160.17H450.50M449.00 156.83H450.50M449.00 153.50H450.50M449.00 150.17H450.50M447.50 146.83H450.50M449.00 143.50H450.50M449.00 140.17H450.50M449.00 136.83H450.50M449.00 133.50H450.50M447.50 130.17H450.50M449.00 126.83H450.50M449.00 123.50H450.50M449.00 120.17H450.50M449.00 116.83H450.50M447.50 113.50H450.50M449.00 110.17H450.50M449.00 106.83H450.50M450.50 163.50V166.50M454.94 163.50V165.20M457.54 163.50V165.20M459.38 163.50V165.20M460.81 163.50V165.20M461.98 163.50V165.20M462.97 163.50V165.20M463.82 163.50V165.20M464.58 163.50V165.20M465.25 163.50V166.50M469.69 163.50V165.20M472.29 163.50V165.20M474.13 163.50V165.20M475.56 163.50V165.20M476.73 163.50V165.20M477.72 163.50V165.20M478.57 163.50V165.20M479.33 163.50V165.20M480.00 163.50V166.50M484.44 163.50V165.20M487.04 163.50V165.20M488.88 163.50V165.20M490.31 163.50V165.20M491.48 163.50V165.20M492.47 163.50V165.20M493.32 163.50V165.20M494.08 163.50V165.20M494.75 163.50V166.50M499.19 163.50V165.20M501.79 163.50V165.20M503.63 163.50V165.20M505.06 163.50V165.20M506.23 163.50V165.20M507.22 163.50V165.20M508.07 163.50V165.20M508.83 163.50V165.20M509.50 163.50V166.50" stroke="#383838" stroke-width="0.75" fill="none"/>
<text x="445.38" y="175.80" font-size="5.5" fill="#1e1e1e">10</text>
<text x="451.80" y="172.40" font-size="4.3" fill="#1e1e1e">-1</text>
<text x="460.85" y="175.80" font-size="5.5" fill="#1e1e1e">10</text>
<text x="467.26" y="172.40" font-size="4.3" fill="#1e1e1e">0</text>
<text x="475.60" y="175.80" font-size="5.5" fill="#1e1e1e">10</text>
<text x="482.01" y="172.40" font-size="4.3" fill="#1e1e1e">1</text>
<text x="490.35" y="175.80" font-size="5.5" fill="#1e1e1e">10</text>
<text x="496.76" y="172.40" font-size="4.3" fill="#1e1e1e">2</text>
<text x="503.60" y="175.80" font-size="5.5" fill="#1e1e1e">10</text>
<text x="510.01" y="172.40" font-size="4.3" fill="#1e1e1e">3</text>
<clipPath id="cB20"><rect x="292.50" y="180.50" width="59.00" height="58.10"/></clipPath>
<g clip-path="url(#cB20)" fill="none" stroke-width="0.9" stroke-linejoin="round">
<path d="M292.80,228.10 C292.95,227.52 293.17,226.38 293.70,224.60 C294.23,222.82 295.27,220.08 296.00,217.40 C296.73,214.72 297.38,211.77 298.10,208.50 C298.82,205.23 299.63,201.07 300.30,197.80 C300.97,194.53 301.52,191.27 302.10,188.90 C302.68,186.53 303.33,183.90 303.80,183.60 C304.27,183.30 304.50,184.73 304.90,187.10 C305.30,189.47 305.78,193.93 306.20,197.80 C306.62,201.67 307.02,206.13 307.40,210.30 C307.78,214.47 308.12,219.08 308.50,222.80 C308.88,226.52 309.20,230.13 309.70,232.60 C310.20,235.07 310.95,236.70 311.50,237.60 C312.05,238.50 312.75,237.93 313.00,238.00" stroke="#d8223f" stroke-opacity="0.9"/>
<path d="M300.00,238.00 C300.88,237.97 303.83,238.25 305.30,237.80 C306.77,237.35 307.77,236.32 308.80,235.30 C309.83,234.28 310.60,233.33 311.50,231.70 C312.40,230.07 313.32,227.88 314.20,225.50 C315.08,223.12 315.92,219.93 316.80,217.40 C317.68,214.87 318.68,212.37 319.50,210.30 C320.32,208.23 321.05,206.25 321.70,205.00 C322.35,203.75 322.82,203.25 323.40,202.80 C323.98,202.35 324.60,202.08 325.20,202.30 C325.80,202.52 326.40,203.07 327.00,204.10 C327.60,205.13 328.12,206.28 328.80,208.50 C329.48,210.72 330.33,214.43 331.10,217.40 C331.87,220.37 332.65,223.77 333.40,226.30 C334.15,228.83 334.80,230.97 335.60,232.60 C336.40,234.23 337.32,235.23 338.20,236.10 C339.08,236.97 339.93,237.48 340.90,237.80 C341.87,238.12 342.32,237.97 344.00,238.00 C345.68,238.03 349.83,238.00 351.00,238.00" stroke="#22558c" stroke-opacity="0.9"/>
</g>
<rect x="292.50" y="180.50" width="59.00" height="57.50" fill="none" stroke="#383838" stroke-width="1"/>
<line x1="292.50" y1="180.50" x2="292.50" y2="238.00" stroke="#d8223f" stroke-width="0.8" opacity="0.75"/>
<text x="288.30" y="239.95" font-size="5.5" text-anchor="end" fill="#1e1e1e">0</text>
<text x="288.30" y="224.98" font-size="5.5" text-anchor="end" fill="#1e1e1e">100</text>
<text x="288.30" y="210.02" font-size="5.5" text-anchor="end" fill="#1e1e1e">200</text>
<text x="288.30" y="195.05" font-size="5.5" text-anchor="end" fill="#1e1e1e">300</text>
<path d="M289.50 238.00H292.50M291.00 235.01H292.50M291.00 232.01H292.50M291.00 229.02H292.50M291.00 226.03H292.50M289.50 223.03H292.50M291.00 220.04H292.50M291.00 217.05H292.50M291.00 214.05H292.50M291.00 211.06H292.50M289.50 208.07H292.50M291.00 205.07H292.50M291.00 202.08H292.50M291.00 199.09H292.50M291.00 196.09H292.50M289.50 193.10H292.50M291.00 190.11H292.50M291.00 187.11H292.50M291.00 184.12H292.50M291.00 181.13H292.50M292.50 238.00V241.00M296.94 238.00V239.70M299.54 238.00V239.70M301.38 238.00V239.70M302.81 238.00V239.70M303.98 238.00V239.70M304.97 238.00V239.70M305.82 238.00V239.70M306.58 238.00V239.70M307.25 238.00V241.00M311.69 238.00V239.70M314.29 238.00V239.70M316.13 238.00V239.70M317.56 238.00V239.70M318.73 238.00V239.70M319.72 238.00V239.70M320.57 238.00V239.70M321.33 238.00V239.70M322.00 238.00V241.00M326.44 238.00V239.70M329.04 238.00V239.70M330.88 238.00V239.70M332.31 238.00V239.70M333.48 238.00V239.70M334.47 238.00V239.70M335.32 238.00V239.70M336.08 238.00V239.70M336.75 238.00V241.00M341.19 238.00V239.70M343.79 238.00V239.70M345.63 238.00V239.70M347.06 238.00V239.70M348.23 238.00V239.70M349.22 238.00V239.70M350.07 238.00V239.70M350.83 238.00V239.70M351.50 238.00V241.00" stroke="#383838" stroke-width="0.75" fill="none"/>
<text x="287.38" y="250.30" font-size="5.5" fill="#1e1e1e">10</text>
<text x="293.80" y="246.90" font-size="4.3" fill="#1e1e1e">-1</text>
<text x="302.85" y="250.30" font-size="5.5" fill="#1e1e1e">10</text>
<text x="309.26" y="246.90" font-size="4.3" fill="#1e1e1e">0</text>
<text x="317.60" y="250.30" font-size="5.5" fill="#1e1e1e">10</text>
<text x="324.01" y="246.90" font-size="4.3" fill="#1e1e1e">1</text>
<text x="332.35" y="250.30" font-size="5.5" fill="#1e1e1e">10</text>
<text x="338.76" y="246.90" font-size="4.3" fill="#1e1e1e">2</text>
<text x="345.60" y="250.30" font-size="5.5" fill="#1e1e1e">10</text>
<text x="352.01" y="246.90" font-size="4.3" fill="#1e1e1e">3</text>
<clipPath id="cB21"><rect x="371.50" y="180.50" width="59.00" height="58.10"/></clipPath>
<g clip-path="url(#cB21)" fill="none" stroke-width="0.9" stroke-linejoin="round">
<path d="M371.80,228.10 C371.95,227.65 372.17,226.88 372.70,225.40 C373.23,223.92 374.27,221.72 375.00,219.20 C375.73,216.68 376.45,213.57 377.10,210.30 C377.75,207.03 378.37,202.42 378.90,199.60 C379.43,196.78 379.85,195.03 380.30,193.40 C380.75,191.77 381.18,189.37 381.60,189.80 C382.02,190.23 382.42,192.88 382.80,196.00 C383.18,199.12 383.52,204.03 383.90,208.50 C384.28,212.97 384.68,218.65 385.10,222.80 C385.52,226.95 385.95,230.90 386.40,233.40 C386.85,235.90 387.20,237.03 387.80,237.80 C388.40,238.57 389.63,237.97 390.00,238.00" stroke="#d8223f" stroke-opacity="0.9"/>
<path d="M389.00,238.00 C390.28,237.93 394.52,238.07 396.70,237.60 C398.88,237.13 400.62,235.90 402.10,235.20 C403.58,234.50 404.57,234.28 405.60,233.40 C406.63,232.52 407.47,231.67 408.30,229.90 C409.13,228.13 409.85,226.07 410.60,222.80 C411.35,219.53 412.15,214.47 412.80,210.30 C413.45,206.13 413.97,201.52 414.50,197.80 C415.03,194.08 415.55,190.13 416.00,188.00 C416.45,185.87 416.78,185.15 417.20,185.00 C417.62,184.85 418.05,184.97 418.50,187.10 C418.95,189.23 419.43,193.63 419.90,197.80 C420.37,201.97 420.83,207.65 421.30,212.10 C421.77,216.55 422.20,220.95 422.70,224.50 C423.20,228.05 423.73,231.22 424.30,233.40 C424.87,235.58 425.48,236.83 426.10,237.60 C426.72,238.37 427.27,237.93 428.00,238.00 C428.73,238.07 430.08,238.00 430.50,238.00" stroke="#432a6c" stroke-opacity="0.9"/>
</g>
<rect x="371.50" y="180.50" width="59.00" height="57.50" fill="none" stroke="#383838" stroke-width="1"/>
<line x1="371.50" y1="180.50" x2="371.50" y2="238.00" stroke="#d8223f" stroke-width="0.8" opacity="0.75"/>
<text x="367.30" y="239.95" font-size="5.5" text-anchor="end" fill="#1e1e1e">0</text>
<text x="367.30" y="228.10" font-size="5.5" text-anchor="end" fill="#1e1e1e">200</text>
<text x="367.30" y="216.25" font-size="5.5" text-anchor="end" fill="#1e1e1e">400</text>
<text x="367.30" y="204.40" font-size="5.5" text-anchor="end" fill="#1e1e1e">600</text>
<text x="367.30" y="192.55" font-size="5.5" text-anchor="end" fill="#1e1e1e">800</text>
<path d="M368.50 238.00H371.50M370.00 235.63H371.50M370.00 233.26H371.50M370.00 230.89H371.50M370.00 228.52H371.50M368.50 226.15H371.50M370.00 223.78H371.50M370.00 221.41H371.50M370.00 219.04H371.50M370.00 216.67H371.50M368.50 214.30H371.50M370.00 211.93H371.50M370.00 209.56H371.50M370.00 207.19H371.50M370.00 204.82H371.50M368.50 202.45H371.50M370.00 200.08H371.50M370.00 197.71H371.50M370.00 195.34H371.50M370.00 192.97H371.50M368.50 190.60H371.50M370.00 188.23H371.50M370.00 185.86H371.50M370.00 183.49H371.50M370.00 181.12H371.50M371.50 238.00V241.00M375.44 238.00V239.70M377.75 238.00V239.70M379.39 238.00V239.70M380.66 238.00V239.70M381.69 238.00V239.70M382.57 238.00V239.70M383.33 238.00V239.70M384.00 238.00V239.70M384.60 238.00V241.00M388.54 238.00V239.70M390.85 238.00V239.70M392.49 238.00V239.70M393.76 238.00V239.70M394.79 238.00V239.70M395.67 238.00V239.70M396.43 238.00V239.70M397.10 238.00V239.70M397.70 238.00V241.00M401.64 238.00V239.70M403.95 238.00V239.70M405.59 238.00V239.70M406.86 238.00V239.70M407.89 238.00V239.70M408.77 238.00V239.70M409.53 238.00V239.70M410.20 238.00V239.70M410.80 238.00V241.00M414.74 238.00V239.70M417.05 238.00V239.70M418.69 238.00V239.70M419.96 238.00V239.70M420.99 238.00V239.70M421.87 238.00V239.70M422.63 238.00V239.70M423.30 238.00V239.70M423.90 238.00V241.00M427.84 238.00V239.70M430.15 238.00V239.70" stroke="#383838" stroke-width="0.75" fill="none"/>
<text x="366.38" y="250.30" font-size="5.5" fill="#1e1e1e">10</text>
<text x="372.80" y="246.90" font-size="4.3" fill="#1e1e1e">-1</text>
<text x="380.20" y="250.30" font-size="5.5" fill="#1e1e1e">10</text>
<text x="386.61" y="246.90" font-size="4.3" fill="#1e1e1e">0</text>
<text x="393.30" y="250.30" font-size="5.5" fill="#1e1e1e">10</text>
<text x="399.71" y="246.90" font-size="4.3" fill="#1e1e1e">1</text>
<text x="406.40" y="250.30" font-size="5.5" fill="#1e1e1e">10</text>
<text x="412.81" y="246.90" font-size="4.3" fill="#1e1e1e">2</text>
<text x="419.50" y="250.30" font-size="5.5" fill="#1e1e1e">10</text>
<text x="425.91" y="246.90" font-size="4.3" fill="#1e1e1e">3</text>
<clipPath id="cB22"><rect x="450.50" y="180.50" width="59.00" height="58.10"/></clipPath>
<g clip-path="url(#cB22)" fill="none" stroke-width="0.9" stroke-linejoin="round">
<path d="M450.80,228.10 C450.85,227.65 450.65,227.18 451.10,225.40 C451.55,223.62 452.72,220.52 453.50,217.40 C454.28,214.28 455.12,210.27 455.80,206.70 C456.48,203.13 457.10,199.12 457.60,196.00 C458.10,192.88 458.40,189.92 458.80,188.00 C459.20,186.08 459.62,184.35 460.00,184.50 C460.38,184.65 460.70,186.08 461.10,188.90 C461.50,191.72 461.98,196.95 462.40,201.40 C462.82,205.85 463.22,211.15 463.60,215.60 C463.98,220.05 464.32,224.83 464.70,228.10 C465.08,231.37 465.48,233.58 465.90,235.20 C466.32,236.82 466.68,237.33 467.20,237.80 C467.72,238.27 468.70,237.97 469.00,238.00" stroke="#d8223f" stroke-opacity="0.9"/>
<path d="M468.00,238.00 C469.58,237.93 475.32,238.07 477.50,237.60 C479.68,237.13 480.07,236.18 481.10,235.20 C482.13,234.22 482.82,233.48 483.70,231.70 C484.58,229.92 485.58,227.18 486.40,224.50 C487.22,221.82 487.85,218.57 488.60,215.60 C489.35,212.63 490.13,209.37 490.90,206.70 C491.67,204.03 492.52,201.38 493.20,199.60 C493.88,197.82 494.50,196.75 495.00,196.00 C495.50,195.25 495.78,194.80 496.20,195.10 C496.62,195.40 497.05,196.45 497.50,197.80 C497.95,199.15 498.37,200.52 498.90,203.20 C499.43,205.88 500.12,210.20 500.70,213.90 C501.28,217.60 501.82,222.15 502.40,225.40 C502.98,228.65 503.60,231.37 504.20,233.40 C504.80,235.43 505.37,236.83 506.00,237.60 C506.63,238.37 507.42,237.93 508.00,238.00 C508.58,238.07 509.25,238.00 509.50,238.00" stroke="#3cb050" stroke-opacity="0.8"/>
</g>
<rect x="450.50" y="180.50" width="59.00" height="57.50" fill="none" stroke="#383838" stroke-width="1"/>
<line x1="450.50" y1="180.50" x2="450.50" y2="238.00" stroke="#d8223f" stroke-width="0.8" opacity="0.75"/>
<text x="446.30" y="239.95" font-size="5.5" text-anchor="end" fill="#1e1e1e">0</text>
<text x="446.30" y="226.80" font-size="5.5" text-anchor="end" fill="#1e1e1e">200</text>
<text x="446.30" y="213.65" font-size="5.5" text-anchor="end" fill="#1e1e1e">400</text>
<text x="446.30" y="200.50" font-size="5.5" text-anchor="end" fill="#1e1e1e">600</text>
<text x="446.30" y="187.35" font-size="5.5" text-anchor="end" fill="#1e1e1e">800</text>
<path d="M447.50 238.00H450.50M449.00 235.37H450.50M449.00 232.74H450.50M449.00 230.11H450.50M449.00 227.48H450.50M447.50 224.85H450.50M449.00 222.22H450.50M449.00 219.59H450.50M449.00 216.96H450.50M449.00 214.33H450.50M447.50 211.70H450.50M449.00 209.07H450.50M449.00 206.44H450.50M449.00 203.81H450.50M449.00 201.18H450.50M447.50 198.55H450.50M449.00 195.92H450.50M449.00 193.29H450.50M449.00 190.66H450.50M449.00 188.03H450.50M447.50 185.40H450.50M449.00 182.77H450.50M450.50 238.00V241.00M454.94 238.00V239.70M457.54 238.00V239.70M459.38 238.00V239.70M460.81 238.00V239.70M461.98 238.00V239.70M462.97 238.00V239.70M463.82 238.00V239.70M464.58 238.00V239.70M465.25 238.00V241.00M469.69 238.00V239.70M472.29 238.00V239.70M474.13 238.00V239.70M475.56 238.00V239.70M476.73 238.00V239.70M477.72 238.00V239.70M478.57 238.00V239.70M479.33 238.00V239.70M480.00 238.00V241.00M484.44 238.00V239.70M487.04 238.00V239.70M488.88 238.00V239.70M490.31 238.00V239.70M491.48 238.00V239.70M492.47 238.00V239.70M493.32 238.00V239.70M494.08 238.00V239.70M494.75 238.00V241.00M499.19 238.00V239.70M501.79 238.00V239.70M503.63 238.00V239.70M505.06 238.00V239.70M506.23 238.00V239.70M507.22 238.00V239.70M508.07 238.00V239.70M508.83 238.00V239.70M509.50 238.00V241.00" stroke="#383838" stroke-width="0.75" fill="none"/>
<text x="445.38" y="250.30" font-size="5.5" fill="#1e1e1e">10</text>
<text x="451.80" y="246.90" font-size="4.3" fill="#1e1e1e">-1</text>
<text x="460.85" y="250.30" font-size="5.5" fill="#1e1e1e">10</text>
<text x="467.26" y="246.90" font-size="4.3" fill="#1e1e1e">0</text>
<text x="475.60" y="250.30" font-size="5.5" fill="#1e1e1e">10</text>
<text x="482.01" y="246.90" font-size="4.3" fill="#1e1e1e">1</text>
<text x="490.35" y="250.30" font-size="5.5" fill="#1e1e1e">10</text>
<text x="496.76" y="246.90" font-size="4.3" fill="#1e1e1e">2</text>
<text x="503.60" y="250.30" font-size="5.5" fill="#1e1e1e">10</text>
<text x="510.01" y="246.90" font-size="4.3" fill="#1e1e1e">3</text>
<text x="62.00" y="27.2" font-size="8" text-anchor="middle" fill="#1e1e1e">Anti-Mal</text>
<text x="141.00" y="27.2" font-size="8" text-anchor="middle" fill="#1e1e1e">Anti-CD44</text>
<text x="219.00" y="27.2" font-size="8" text-anchor="middle" fill="#1e1e1e">Anti-AnWj</text>
<text x="322.00" y="27.2" font-size="8" text-anchor="middle" fill="#1e1e1e">Anti-Mal</text>
<text x="401.00" y="27.2" font-size="8" text-anchor="middle" fill="#1e1e1e">Anti-CD44</text>
<text x="480.00" y="27.2" font-size="8" text-anchor="middle" fill="#1e1e1e">Anti-AnWj</text>
<text transform="translate(13.60,61.00) rotate(-90)" x="0" y="0" font-size="7.7" text-anchor="middle" fill="#1e1e1e" textLength="26.50" lengthAdjust="spacingAndGlyphs">Wild-type</text>
<text transform="translate(13.20,134.50) rotate(-90)" x="0" y="0" font-size="7.7" text-anchor="middle" fill="#1e1e1e" textLength="24.50" lengthAdjust="spacingAndGlyphs">CD44 KO</text>
<text transform="translate(13.20,209.60) rotate(-90)" x="0" y="0" font-size="7.7" text-anchor="middle" fill="#1e1e1e" textLength="44.20" lengthAdjust="spacingAndGlyphs">CD44 KO OE Mal</text>
<text transform="translate(13.20,286.80) rotate(-90)" x="0" y="0" font-size="7.7" text-anchor="middle" fill="#1e1e1e" textLength="51.00" lengthAdjust="spacingAndGlyphs">CD44 KO OE CD44</text>
<text transform="translate(272.80,62.00) rotate(-90)" x="0" y="0" font-size="7.7" text-anchor="middle" fill="#1e1e1e" textLength="25.00" lengthAdjust="spacingAndGlyphs">Wild-type</text>
<text transform="translate(272.60,135.00) rotate(-90)" x="0" y="0" font-size="7.7" text-anchor="middle" fill="#1e1e1e" textLength="19.10" lengthAdjust="spacingAndGlyphs">Mal KO</text>
<text transform="translate(273.20,210.00) rotate(-90)" x="0" y="0" font-size="7.7" text-anchor="middle" fill="#1e1e1e" textLength="17.80" lengthAdjust="spacingAndGlyphs">Mal OE</text>
<text x="7.0" y="16.6" font-size="12.2" font-weight="bold" fill="#111">A</text>
<text x="268.5" y="16.9" font-size="11.8" font-weight="bold" fill="#111">B</text>
<rect x="0.5" y="0.5" width="519" height="336" fill="none" stroke="#4a4a4a" stroke-width="1"/>
</svg></body></html>
